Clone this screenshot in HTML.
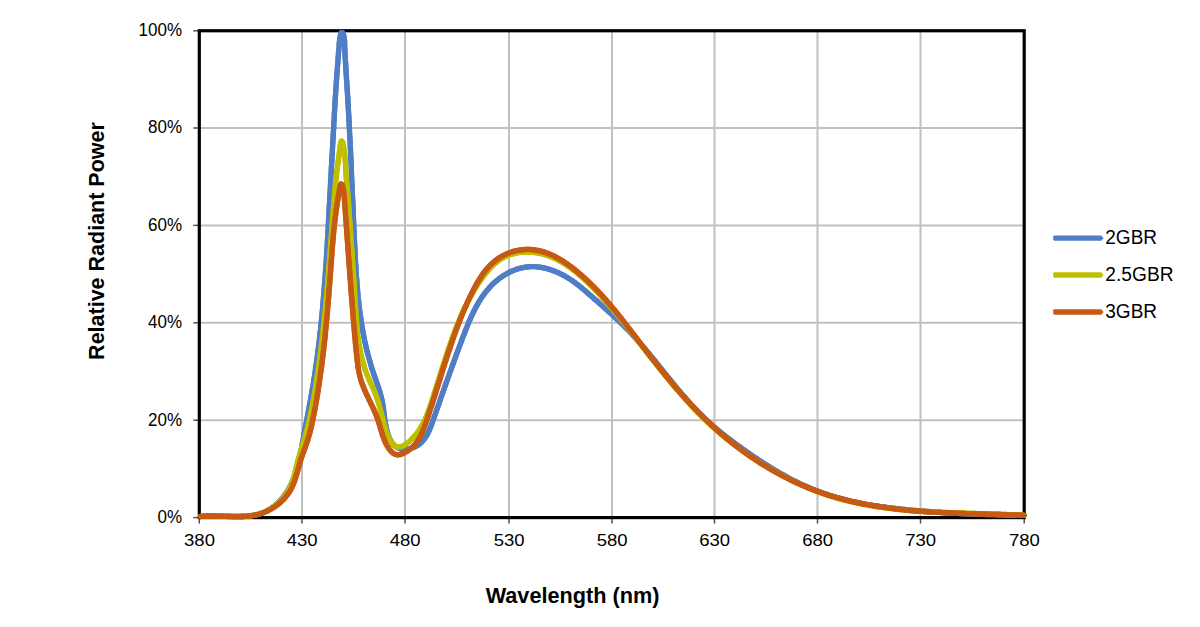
<!DOCTYPE html>
<html><head><meta charset="utf-8"><style>
html,body{margin:0;padding:0;background:#fff;}
svg{display:block;font-family:"Liberation Sans",sans-serif;}
</style></head><body>
<svg width="1200" height="627" viewBox="0 0 1200 627">
<rect width="1200" height="627" fill="#fff"/>
<g stroke="#c0c0c0" stroke-width="2"><line x1="302.0" y1="30.6" x2="302.0" y2="517.6"/><line x1="405.0" y1="30.6" x2="405.0" y2="517.6"/><line x1="509.0" y1="30.6" x2="509.0" y2="517.6"/><line x1="612.0" y1="30.6" x2="612.0" y2="517.6"/><line x1="714.5" y1="30.6" x2="714.5" y2="517.6"/><line x1="817.5" y1="30.6" x2="817.5" y2="517.6"/><line x1="920.5" y1="30.6" x2="920.5" y2="517.6"/><line x1="199.0" y1="420.2" x2="1023.8" y2="420.2"/><line x1="199.0" y1="322.8" x2="1023.8" y2="322.8"/><line x1="199.0" y1="225.4" x2="1023.8" y2="225.4"/><line x1="199.0" y1="128.0" x2="1023.8" y2="128.0"/></g>
<g stroke="#505050" stroke-width="1.5"><line x1="199.3" y1="517.6" x2="199.3" y2="523.6"/><line x1="302.0" y1="517.6" x2="302.0" y2="523.6"/><line x1="405.0" y1="517.6" x2="405.0" y2="523.6"/><line x1="509.0" y1="517.6" x2="509.0" y2="523.6"/><line x1="612.0" y1="517.6" x2="612.0" y2="523.6"/><line x1="714.5" y1="517.6" x2="714.5" y2="523.6"/><line x1="817.5" y1="517.6" x2="817.5" y2="523.6"/><line x1="920.5" y1="517.6" x2="920.5" y2="523.6"/><line x1="1024.2" y1="517.6" x2="1024.2" y2="523.6"/><line x1="193.3" y1="517.6" x2="199.3" y2="517.6"/><line x1="193.3" y1="420.2" x2="199.3" y2="420.2"/><line x1="193.3" y1="322.8" x2="199.3" y2="322.8"/><line x1="193.3" y1="225.4" x2="199.3" y2="225.4"/><line x1="193.3" y1="128.0" x2="199.3" y2="128.0"/><line x1="193.3" y1="30.8" x2="199.3" y2="30.8"/></g>
<rect x="199.30" y="30.75" width="824.90" height="486.85" fill="none" stroke="#000" stroke-width="3.2"/>
<g fill="none" stroke-width="5.3" stroke-linejoin="round" stroke-linecap="round">
<path stroke="#4f7dc6" d="M200.9 516.5 L202.8 516.2 L204.8 516.0 L206.9 515.9 L209.0 515.8 L211.1 515.7 L213.2 515.7 L215.4 515.7 L217.6 515.8 L219.8 515.9 L222.0 516.0 L224.3 516.1 L225.8 516.1 L227.3 516.2 L228.8 516.3 L230.3 516.3 L231.8 516.4 L233.4 516.4 L234.9 516.5 L236.4 516.5 L237.9 516.5 L239.4 516.5 L240.9 516.5 L243.1 516.5 L245.4 516.3 L247.6 516.2 L249.8 516.0 L251.9 515.7 L254.1 515.3 L256.2 514.9 L258.2 514.4 L260.3 513.7 L262.2 513.0 L264.2 512.2 L266.1 511.3 L268.0 510.3 L269.8 509.2 L271.5 508.1 L273.2 506.8 L274.9 505.5 L276.5 504.1 L278.1 502.6 L279.6 501.1 L281.1 499.5 L282.5 497.8 L283.8 496.1 L285.1 494.4 L286.3 492.6 L287.5 490.8 L288.7 488.9 L289.7 487.0 L290.7 485.1 L291.7 483.1 L292.5 481.2 L293.4 479.2 L294.2 477.2 L294.9 475.1 L295.6 473.1 L296.2 471.0 L296.9 468.9 L297.4 466.8 L298.0 464.7 L298.5 462.6 L299.0 460.5 L299.5 458.4 L299.9 456.2 L300.3 454.1 L300.8 451.9 L301.2 449.8 L301.6 447.6 L302.0 445.5 L302.4 443.3 L302.8 441.2 L303.2 439.0 L303.6 436.9 L304.0 434.7 L304.4 432.6 L304.8 430.5 L305.2 428.3 L305.6 426.2 L306.0 424.0 L306.4 421.9 L306.8 419.8 L307.2 417.6 L307.6 415.5 L308.0 413.4 L308.4 411.2 L308.8 409.1 L309.2 407.0 L309.6 404.8 L310.0 402.7 L310.4 400.6 L310.8 398.4 L311.1 396.3 L311.5 394.2 L311.9 392.0 L312.2 389.9 L312.6 387.8 L313.0 385.6 L313.3 383.5 L313.7 381.4 L314.0 379.2 L314.3 377.1 L314.7 375.0 L315.0 372.8 L315.3 370.7 L315.6 368.5 L315.9 366.4 L316.2 364.3 L316.5 362.1 L316.8 360.0 L317.1 357.8 L317.4 355.7 L317.7 353.5 L317.9 351.4 L318.2 349.2 L318.5 347.1 L318.7 344.9 L319.0 342.8 L319.3 340.6 L319.5 338.5 L319.7 336.3 L320.0 334.2 L320.2 332.0 L320.5 329.9 L320.7 327.7 L320.9 325.6 L321.1 323.4 L321.3 321.3 L321.6 319.1 L321.8 316.9 L322.0 314.8 L322.2 312.6 L322.4 310.5 L322.6 308.3 L322.8 306.1 L323.0 304.0 L323.2 301.8 L323.3 299.7 L323.5 297.5 L323.7 295.3 L323.9 293.2 L324.0 291.0 L324.2 288.8 L324.4 286.7 L324.5 284.5 L324.7 282.3 L324.9 280.2 L325.0 278.0 L325.2 275.9 L325.3 273.7 L325.5 271.5 L325.6 269.4 L325.8 267.2 L325.9 265.0 L326.1 262.9 L326.2 260.7 L326.4 258.5 L326.5 256.4 L326.6 254.2 L326.8 252.0 L326.9 249.8 L327.0 247.7 L327.2 245.5 L327.3 243.3 L327.4 241.2 L327.5 239.0 L327.7 236.8 L327.8 234.7 L327.9 232.5 L328.0 230.3 L328.2 228.2 L328.3 226.0 L328.4 223.8 L328.5 221.7 L328.6 219.5 L328.7 217.3 L328.9 215.2 L329.0 213.0 L329.1 210.8 L329.2 208.7 L329.3 206.5 L329.4 204.3 L329.6 202.2 L329.7 200.0 L329.8 197.8 L329.9 195.7 L330.0 193.5 L330.1 191.3 L330.3 189.2 L330.4 187.0 L330.5 184.8 L330.6 182.7 L330.7 180.5 L330.8 178.4 L331.0 176.2 L331.1 174.0 L331.2 171.9 L331.3 169.7 L331.4 167.5 L331.5 165.4 L331.7 163.2 L331.8 161.1 L331.9 158.9 L332.0 156.7 L332.1 154.6 L332.3 152.4 L332.4 150.2 L332.5 148.1 L332.6 145.9 L332.7 143.7 L332.9 141.6 L333.0 139.4 L333.1 137.2 L333.2 135.1 L333.3 132.9 L333.5 130.7 L333.6 128.6 L333.7 126.4 L333.8 124.2 L333.9 122.0 L334.1 119.9 L334.2 117.7 L334.3 115.5 L334.4 113.4 L334.5 111.2 L334.7 109.0 L334.8 106.8 L334.9 104.7 L335.0 102.5 L335.2 100.3 L335.3 98.2 L335.4 96.0 L335.6 93.9 L335.7 91.7 L335.8 89.5 L336.0 87.4 L336.1 85.2 L336.3 83.1 L336.4 80.9 L336.6 78.8 L336.7 76.6 L336.9 74.5 L337.1 72.3 L337.2 70.2 L337.4 68.0 L337.5 65.9 L337.7 63.7 L337.9 61.5 L338.0 59.4 L338.2 57.2 L338.4 55.0 L338.5 52.8 L338.7 50.6 L338.9 48.4 L339.1 46.2 L339.2 44.0 L339.4 41.8 L339.6 40.3 L339.8 38.8 L340.1 37.3 L340.4 35.7 L340.7 34.2 L341.2 32.7 L342.8 32.8 L343.4 34.3 L343.8 35.8 L344.1 37.4 L344.3 38.9 L344.5 40.5 L344.6 42.0 L344.6 43.6 L344.6 45.1 L344.7 46.6 L344.8 48.8 L344.9 51.0 L345.0 53.2 L345.1 55.3 L345.2 57.4 L345.3 59.6 L345.5 61.7 L345.6 63.8 L345.7 66.0 L345.9 68.1 L346.0 70.3 L346.1 72.4 L346.3 74.6 L346.4 76.7 L346.5 78.9 L346.7 81.1 L346.8 83.2 L347.0 85.4 L347.1 87.6 L347.2 89.8 L347.4 91.9 L347.5 94.1 L347.6 96.3 L347.8 98.5 L347.9 100.6 L348.0 102.8 L348.1 105.0 L348.3 107.1 L348.4 109.3 L348.5 111.5 L348.6 113.7 L348.7 115.8 L348.9 118.0 L349.0 120.2 L349.1 122.3 L349.2 124.5 L349.3 126.7 L349.4 128.8 L349.5 131.0 L349.6 133.2 L349.7 135.4 L349.9 137.5 L350.0 139.7 L350.1 141.9 L350.2 144.0 L350.3 146.2 L350.4 148.4 L350.5 150.5 L350.6 152.7 L350.7 154.9 L350.8 157.0 L350.9 159.2 L351.0 161.4 L351.1 163.5 L351.2 165.7 L351.3 167.9 L351.4 170.0 L351.4 172.2 L351.5 174.3 L351.6 176.5 L351.7 178.7 L351.8 180.8 L351.9 183.0 L352.0 185.2 L352.1 187.3 L352.2 189.5 L352.3 191.7 L352.4 193.8 L352.5 196.0 L352.6 198.2 L352.7 200.3 L352.8 202.5 L352.9 204.7 L353.0 206.8 L353.1 209.0 L353.1 211.2 L353.2 213.3 L353.3 215.5 L353.4 217.7 L353.5 219.8 L353.6 222.0 L353.7 224.2 L353.8 226.3 L353.9 228.5 L354.0 230.7 L354.1 232.8 L354.2 235.0 L354.3 237.2 L354.4 239.3 L354.5 241.5 L354.6 243.7 L354.7 245.8 L354.8 248.0 L355.0 250.2 L355.1 252.4 L355.2 254.5 L355.3 256.7 L355.4 258.9 L355.5 261.0 L355.6 263.2 L355.8 265.4 L355.9 267.5 L356.0 269.7 L356.2 271.9 L356.3 274.0 L356.4 276.2 L356.6 278.4 L356.8 280.5 L356.9 282.7 L357.1 284.9 L357.3 287.0 L357.4 289.2 L357.6 291.3 L357.8 293.5 L358.0 295.7 L358.2 297.8 L358.5 300.0 L358.7 302.1 L358.9 304.3 L359.2 306.4 L359.4 308.6 L359.7 310.7 L360.0 312.9 L360.3 315.0 L360.6 317.2 L360.9 319.3 L361.2 321.4 L361.5 323.6 L361.9 325.7 L362.2 327.8 L362.6 330.0 L363.0 332.1 L363.4 334.2 L363.8 336.4 L364.2 338.5 L364.6 340.6 L365.1 342.7 L365.6 344.8 L366.0 346.9 L366.5 349.0 L367.0 351.1 L367.6 353.2 L368.1 355.3 L368.7 357.4 L369.3 359.5 L369.9 361.6 L370.5 363.7 L371.1 365.8 L371.7 367.9 L372.4 369.9 L373.1 372.0 L373.8 374.1 L374.5 376.1 L375.2 378.2 L376.0 380.3 L376.7 382.3 L377.4 384.4 L378.1 386.4 L378.8 388.5 L379.4 390.6 L380.1 392.7 L380.6 394.7 L381.2 396.8 L381.7 398.9 L382.2 401.0 L382.6 403.1 L382.9 405.2 L383.3 407.3 L383.6 409.5 L383.8 411.6 L384.1 413.7 L384.3 415.9 L384.6 418.0 L384.9 420.2 L385.2 422.3 L385.6 424.5 L386.0 426.6 L386.5 428.8 L387.0 431.0 L387.6 433.1 L388.1 434.6 L388.6 436.0 L389.1 437.4 L389.7 438.8 L390.8 440.7 L391.9 442.6 L393.2 444.3 L394.7 445.8 L396.3 447.0 L398.2 448.0 L400.2 448.7 L402.4 449.1 L404.0 449.2 L405.5 449.1 L407.1 449.0 L408.7 448.8 L410.3 448.5 L411.8 448.1 L413.2 447.6 L415.3 446.7 L417.2 445.7 L418.9 444.5 L420.5 443.2 L422.0 441.8 L423.4 440.3 L424.6 438.6 L425.8 436.9 L426.9 435.1 L427.9 433.2 L428.8 431.3 L429.7 429.3 L430.5 427.2 L431.3 425.2 L432.1 423.1 L432.8 421.0 L433.6 418.9 L434.3 416.8 L435.0 414.7 L435.8 412.6 L436.5 410.5 L437.2 408.5 L437.9 406.4 L438.7 404.4 L439.4 402.3 L440.1 400.3 L440.8 398.2 L441.5 396.2 L442.2 394.1 L443.0 392.1 L443.7 390.1 L444.4 388.0 L445.1 386.0 L445.8 384.0 L446.5 382.0 L447.3 379.9 L448.0 377.9 L448.7 375.9 L449.4 373.9 L450.1 371.9 L450.9 369.9 L451.6 367.8 L452.3 365.8 L453.1 363.8 L453.8 361.8 L454.5 359.8 L455.3 357.8 L456.0 355.7 L456.7 353.7 L457.5 351.7 L458.2 349.7 L459.0 347.6 L459.8 345.6 L460.5 343.6 L461.3 341.5 L462.0 339.5 L462.8 337.4 L463.6 335.4 L464.4 333.3 L465.2 331.3 L466.0 329.2 L466.8 327.2 L467.6 325.1 L468.5 323.1 L469.3 321.1 L470.2 319.1 L471.1 317.0 L472.0 315.0 L473.0 313.1 L473.9 311.1 L474.9 309.2 L475.9 307.2 L477.0 305.3 L478.0 303.4 L479.1 301.6 L480.3 299.7 L481.4 297.9 L482.7 296.2 L483.9 294.4 L485.2 292.7 L486.5 291.0 L487.9 289.4 L489.3 287.8 L490.7 286.2 L492.2 284.7 L493.7 283.2 L495.3 281.8 L497.0 280.4 L498.7 279.0 L500.4 277.7 L502.2 276.5 L504.0 275.3 L505.9 274.2 L507.8 273.1 L509.7 272.2 L511.7 271.2 L513.7 270.4 L515.7 269.6 L517.7 268.9 L519.8 268.3 L521.9 267.8 L524.0 267.4 L526.1 267.1 L528.3 266.8 L530.4 266.7 L532.6 266.6 L534.8 266.7 L536.9 266.8 L539.1 267.1 L541.3 267.4 L543.4 267.8 L545.6 268.3 L547.7 268.9 L549.9 269.5 L552.0 270.2 L554.0 271.0 L556.1 271.8 L558.1 272.7 L560.1 273.6 L562.0 274.6 L564.0 275.6 L565.8 276.7 L567.7 277.8 L569.5 278.9 L571.3 280.1 L573.1 281.3 L574.9 282.6 L576.6 283.9 L578.3 285.2 L580.0 286.5 L581.7 287.9 L583.3 289.2 L585.0 290.6 L586.6 292.0 L588.2 293.4 L589.9 294.9 L591.5 296.3 L593.1 297.7 L594.7 299.2 L596.4 300.6 L598.0 302.0 L599.6 303.5 L601.2 304.9 L602.8 306.4 L604.4 307.8 L606.1 309.3 L607.7 310.7 L609.3 312.2 L610.9 313.6 L612.5 315.1 L614.1 316.6 L615.7 318.0 L617.3 319.5 L618.8 321.0 L620.4 322.5 L621.9 324.0 L623.5 325.5 L625.0 327.1 L626.6 328.6 L628.1 330.2 L629.6 331.7 L631.1 333.3 L632.6 334.9 L634.0 336.5 L635.5 338.1 L636.9 339.7 L638.4 341.3 L639.8 342.9 L641.2 344.5 L642.7 346.2 L644.1 347.8 L645.5 349.5 L646.9 351.2 L648.3 352.8 L649.7 354.5 L651.0 356.2 L652.4 357.8 L653.8 359.5 L655.2 361.2 L656.5 362.9 L657.9 364.6 L659.3 366.3 L660.6 368.0 L662.0 369.7 L663.3 371.4 L664.7 373.1 L666.1 374.8 L667.4 376.5 L668.8 378.1 L670.2 379.8 L671.5 381.5 L672.9 383.2 L674.3 384.9 L675.7 386.6 L677.0 388.2 L678.4 389.9 L679.8 391.5 L681.2 393.2 L682.6 394.8 L684.1 396.5 L685.5 398.1 L686.9 399.7 L688.3 401.4 L689.8 403.0 L691.2 404.6 L692.7 406.2 L694.2 407.7 L695.7 409.3 L697.2 410.9 L698.7 412.4 L700.2 413.9 L701.7 415.5 L703.3 417.0 L704.8 418.5 L706.4 419.9 L708.0 421.4 L709.6 422.9 L711.2 424.3 L712.8 425.7 L714.5 427.2 L716.1 428.6 L717.8 430.0 L719.4 431.3 L721.1 432.7 L722.8 434.1 L724.5 435.4 L726.2 436.8 L727.9 438.1 L729.7 439.4 L731.4 440.7 L733.1 442.0 L734.9 443.3 L736.6 444.6 L738.4 445.9 L740.2 447.2 L741.9 448.5 L743.7 449.7 L745.5 451.0 L747.3 452.2 L749.1 453.4 L750.9 454.7 L752.7 455.9 L754.5 457.1 L756.3 458.3 L758.1 459.5 L759.9 460.7 L761.8 461.9 L763.6 463.1 L765.4 464.3 L767.3 465.4 L769.1 466.6 L771.0 467.7 L772.8 468.9 L774.7 470.0 L776.6 471.1 L778.4 472.2 L780.3 473.3 L782.2 474.3 L784.1 475.4 L786.0 476.4 L787.9 477.5 L789.8 478.5 L791.7 479.5 L793.7 480.5 L795.6 481.4 L797.5 482.4 L799.5 483.3 L801.4 484.3 L803.4 485.2 L805.4 486.0 L807.3 486.9 L809.3 487.8 L811.3 488.6 L813.3 489.4 L815.3 490.2 L817.3 491.0 L819.3 491.8 L821.3 492.5 L823.4 493.2 L825.4 493.9 L827.5 494.6 L829.5 495.3 L831.6 495.9 L833.6 496.6 L835.7 497.2 L837.8 497.8 L839.9 498.3 L842.0 498.9 L844.1 499.4 L846.2 500.0 L848.3 500.5 L850.4 501.0 L852.5 501.5 L854.6 501.9 L856.8 502.4 L858.9 502.8 L861.0 503.3 L863.2 503.7 L865.3 504.1 L867.4 504.5 L869.6 504.9 L871.7 505.2 L873.9 505.6 L876.0 505.9 L878.2 506.2 L880.4 506.6 L882.5 506.9 L884.7 507.2 L886.9 507.5 L889.0 507.7 L891.2 508.0 L893.4 508.3 L895.5 508.5 L897.7 508.8 L899.9 509.0 L902.0 509.3 L904.2 509.5 L906.4 509.7 L908.6 509.9 L910.7 510.1 L912.9 510.3 L915.1 510.5 L917.2 510.7 L919.4 510.9 L921.6 511.0 L923.7 511.2 L925.9 511.4 L928.0 511.5 L930.2 511.7 L932.3 511.8 L934.5 512.0 L936.7 512.1 L938.8 512.3 L941.0 512.4 L943.1 512.6 L945.3 512.7 L947.4 512.8 L949.6 512.9 L951.7 513.0 L953.9 513.2 L956.0 513.3 L958.2 513.4 L960.3 513.5 L962.5 513.6 L964.6 513.7 L966.8 513.8 L968.9 513.9 L971.1 514.0 L973.2 514.0 L975.4 514.1 L977.6 514.2 L979.7 514.3 L981.9 514.3 L984.0 514.4 L986.2 514.5 L988.4 514.6 L990.5 514.6 L992.7 514.7 L994.9 514.7 L997.0 514.8 L999.2 514.8 L1001.4 514.9 L1003.5 514.9 L1005.7 515.0 L1007.9 515.0 L1010.1 515.1 L1012.3 515.1 L1014.5 515.2 L1016.7 515.2 L1018.9 515.2 L1021.1 515.3 L1023.3 515.3 L1024.0 515.3"/>
<path stroke="#4f7dc6" d="M200.9 516.5 L202.8 516.2 L204.8 516.0 L206.9 515.9 L209.0 515.8 L211.1 515.7 L213.2 515.7 L215.4 515.7 L217.6 515.8 L219.8 515.9 L222.0 516.0 L224.3 516.1 L225.8 516.1 L227.3 516.2 L228.8 516.3 L230.3 516.3 L231.8 516.4 L233.4 516.4 L234.9 516.5 L236.4 516.5 L237.9 516.5 L239.4 516.5 L240.9 516.5 L243.1 516.5 L245.4 516.3 L247.6 516.2 L249.8 516.0 L251.9 515.7 L254.1 515.3 L256.2 514.9 L258.2 514.4 L260.3 513.7 L262.2 513.0 L264.2 512.2 L266.1 511.3 L268.0 510.3 L269.8 509.2 L271.5 508.1 L273.2 506.8 L274.9 505.5 L276.5 504.1 L278.1 502.6 L279.6 501.1 L281.1 499.5 L282.5 497.8 L283.8 496.1 L285.1 494.4 L286.3 492.6 L287.5 490.8 L288.7 488.9 L289.7 487.0 L290.7 485.1 L291.7 483.1 L292.5 481.2 L293.4 479.2 L294.2 477.2 L294.9 475.1 L295.6 473.1 L296.2 471.0 L296.9 468.9 L297.4 466.8 L298.0 464.7 L298.5 462.6 L299.0 460.5 L299.5 458.4 L299.9 456.2 L300.3 454.1 L300.8 451.9 L301.2 449.8 L301.6 447.6 L302.0 445.5 L302.4 443.3 L302.8 441.2 L303.2 439.0 L303.6 436.9 L304.0 434.7 L304.4 432.6 L304.8 430.5 L305.2 428.3 L305.6 426.2 L306.0 424.0 L306.4 421.9 L306.8 419.8 L307.2 417.6 L307.6 415.5 L308.0 413.4 L308.4 411.2 L308.8 409.1 L309.2 407.0 L309.6 404.8 L310.0 402.7 L310.4 400.6 L310.8 398.4 L311.1 396.3 L311.5 394.2 L311.9 392.0 L312.2 389.9 L312.6 387.8 L313.0 385.6 L313.3 383.5 L313.7 381.4 L314.0 379.2 L314.3 377.1 L314.7 375.0 L315.0 372.8 L315.3 370.7 L315.6 368.5 L315.9 366.4 L316.2 364.3 L316.5 362.1 L316.8 360.0 L317.1 357.8 L317.4 355.7 L317.7 353.5 L317.9 351.4 L318.2 349.2 L318.5 347.1 L318.7 344.9 L319.0 342.8 L319.3 340.6 L319.5 338.5 L319.7 336.3 L320.0 334.2 L320.2 332.0 L320.5 329.9 L320.7 327.7 L320.9 325.6 L321.1 323.4 L321.3 321.3 L321.6 319.1 L321.8 316.9 L322.0 314.8 L322.2 312.6 L322.4 310.5 L322.6 308.3 L322.8 306.1 L323.0 304.0 L323.2 301.8 L323.3 299.7 L323.5 297.5 L323.7 295.3 L323.9 293.2 L324.0 291.0 L324.2 288.8 L324.4 286.7 L324.5 284.5 L324.7 282.3 L324.9 280.2 L325.0 278.0 L325.2 275.9 L325.3 273.7 L325.5 271.5 L325.6 269.4 L325.8 267.2 L325.9 265.0 L326.1 262.9 L326.2 260.7 L326.4 258.5 L326.5 256.4 L326.6 254.2 L326.8 252.0 L326.9 249.8 L327.0 247.7 L327.2 245.5 L327.3 243.3 L327.4 241.2 L327.5 239.0 L327.7 236.8 L327.8 234.7 L327.9 232.5 L328.0 230.3 L328.2 228.2 L328.3 226.0 L328.4 223.8 L328.5 221.7 L328.6 219.5 L328.7 217.3 L328.9 215.2 L329.0 213.0 L329.1 210.8 L329.2 208.7 L329.3 206.5 L329.4 204.3 L329.6 202.2 L329.7 200.0 L329.8 197.8 L329.9 195.7 L330.0 193.5 L330.1 191.3 L330.3 189.2 L330.4 187.0 L330.5 184.8 L330.6 182.7 L330.7 180.5 L330.8 178.4 L331.0 176.2 L331.1 174.0 L331.2 171.9 L331.3 169.7 L331.4 167.5 L331.5 165.4 L331.7 163.2 L331.8 161.1 L331.9 158.9 L332.0 156.7 L332.1 154.6 L332.3 152.4 L332.4 150.2 L332.5 148.1 L332.6 145.9 L332.7 143.7 L332.9 141.6 L333.0 139.4 L333.1 137.2 L333.2 135.1 L333.3 132.9 L333.5 130.7 L333.6 128.6 L333.7 126.4 L333.8 124.2 L333.9 122.0 L334.1 119.9 L334.2 117.7 L334.3 115.5 L334.4 113.4 L334.5 111.2 L334.7 109.0 L334.8 106.8 L334.9 104.7 L335.0 102.5 L335.2 100.3 L335.3 98.2 L335.4 96.0 L335.6 93.9 L335.7 91.7 L335.8 89.5 L336.0 87.4 L336.1 85.2 L336.3 83.1 L336.4 80.9 L336.6 78.8 L336.7 76.6 L336.9 74.5 L337.1 72.3 L337.2 70.2 L337.4 68.0 L337.5 65.9 L337.7 63.7 L337.9 61.5 L338.0 59.4 L338.2 57.2 L338.4 55.0 L338.5 52.8 L338.7 50.6 L338.9 48.4 L339.1 46.2 L339.2 44.0 L339.4 41.8 L339.6 40.3 L339.8 38.8 L340.1 37.3 L340.4 35.7 L340.7 34.2 L341.2 32.7 L342.8 32.8 L343.4 34.3 L343.8 35.8 L344.1 37.4 L344.3 38.9 L344.5 40.5 L344.6 42.0 L344.6 43.6 L344.6 45.1 L344.7 46.6 L344.8 48.8 L344.9 51.0 L345.0 53.2 L345.1 55.3 L345.2 57.4 L345.3 59.6 L345.5 61.7 L345.6 63.8 L345.7 66.0 L345.9 68.1 L346.0 70.3 L346.1 72.4 L346.3 74.6 L346.4 76.7 L346.5 78.9 L346.7 81.1 L346.8 83.2 L347.0 85.4 L347.1 87.6 L347.2 89.8 L347.4 91.9 L347.5 94.1 L347.6 96.3 L347.8 98.5 L347.9 100.6 L348.0 102.8 L348.1 105.0 L348.3 107.1 L348.4 109.3 L348.5 111.5 L348.6 113.7 L348.7 115.8 L348.9 118.0 L349.0 120.2 L349.1 122.3 L349.2 124.5 L349.3 126.7 L349.4 128.8 L349.5 131.0 L349.6 133.2 L349.7 135.4 L349.9 137.5 L350.0 139.7 L350.1 141.9 L350.2 144.0 L350.3 146.2 L350.4 148.4 L350.5 150.5 L350.6 152.7 L350.7 154.9 L350.8 157.0 L350.9 159.2 L351.0 161.4 L351.1 163.5 L351.2 165.7 L351.3 167.9 L351.4 170.0 L351.4 172.2 L351.5 174.3 L351.6 176.5 L351.7 178.7 L351.8 180.8 L351.9 183.0 L352.0 185.2 L352.1 187.3 L352.2 189.5 L352.3 191.7 L352.4 193.8 L352.5 196.0 L352.6 198.2 L352.7 200.3 L352.8 202.5 L352.9 204.7 L353.0 206.8 L353.1 209.0 L353.1 211.2 L353.2 213.3 L353.3 215.5 L353.4 217.7 L353.5 219.8 L353.6 222.0 L353.7 224.2 L353.8 226.3 L353.9 228.5 L354.0 230.7 L354.1 232.8 L354.2 235.0 L354.3 237.2 L354.4 239.3 L354.5 241.5 L354.6 243.7 L354.7 245.8 L354.8 248.0 L355.0 250.2 L355.1 252.4 L355.2 254.5 L355.3 256.7 L355.4 258.9 L355.5 261.0 L355.6 263.2 L355.8 265.4 L355.9 267.5 L356.0 269.7 L356.2 271.9 L356.3 274.0 L356.4 276.2 L356.6 278.4 L356.8 280.5 L356.9 282.7 L357.1 284.9 L357.3 287.0 L357.4 289.2 L357.6 291.3 L357.8 293.5 L358.0 295.7 L358.2 297.8 L358.5 300.0 L358.7 302.1 L358.9 304.3 L359.2 306.4 L359.4 308.6 L359.7 310.7 L360.0 312.9 L360.3 315.0 L360.6 317.2 L360.9 319.3 L361.2 321.4 L361.5 323.6 L361.9 325.7 L362.2 327.8 L362.6 330.0 L363.0 332.1 L363.4 334.2 L363.8 336.4 L364.2 338.5 L364.6 340.6 L365.1 342.7 L365.6 344.8 L366.0 346.9 L366.5 349.0 L367.0 351.1 L367.6 353.2 L368.1 355.3 L368.7 357.4 L369.3 359.5 L369.9 361.6 L370.5 363.7 L371.1 365.8 L371.7 367.9 L372.4 369.9 L373.1 372.0 L373.8 374.1 L374.5 376.1 L375.2 378.2 L376.0 380.3 L376.7 382.3 L377.4 384.4 L378.1 386.4 L378.8 388.5 L379.4 390.6 L380.1 392.7 L380.6 394.7 L381.2 396.8 L381.7 398.9 L382.2 401.0 L382.6 403.1 L382.9 405.2 L383.3 407.3 L383.6 409.5 L383.8 411.6 L384.1 413.7 L384.3 415.9 L384.6 418.0 L384.9 420.2 L385.2 422.3 L385.6 424.5 L386.0 426.6 L386.5 428.8 L387.0 431.0 L387.6 433.1 L388.1 434.6 L388.6 436.0 L389.1 437.4 L389.7 438.8 L390.8 440.7 L391.9 442.6 L393.2 444.3 L394.7 445.8 L396.3 447.0 L398.2 448.0 L400.2 448.7 L402.4 449.1 L404.0 449.2 L405.5 449.1 L407.1 449.0 L408.7 448.8 L410.3 448.5 L411.8 448.1 L413.2 447.6 L415.3 446.7 L417.2 445.7 L418.9 444.5 L420.5 443.2 L422.0 441.8 L423.4 440.3 L424.6 438.6 L425.8 436.9 L426.9 435.1 L427.9 433.2 L428.8 431.3 L429.7 429.3 L430.5 427.2 L431.3 425.2 L432.1 423.1 L432.8 421.0 L433.6 418.9 L434.3 416.8 L435.0 414.7 L435.8 412.6 L436.5 410.5 L437.2 408.5 L437.9 406.4 L438.7 404.4 L439.4 402.3 L440.1 400.3 L440.8 398.2 L441.5 396.2 L442.2 394.1 L443.0 392.1 L443.7 390.1 L444.4 388.0 L445.1 386.0 L445.8 384.0 L446.5 382.0 L447.3 379.9 L448.0 377.9 L448.7 375.9 L449.4 373.9 L450.1 371.9 L450.9 369.9 L451.6 367.8 L452.3 365.8 L453.1 363.8 L453.8 361.8 L454.5 359.8 L455.3 357.8 L456.0 355.7 L456.7 353.7 L457.5 351.7 L458.2 349.7 L459.0 347.6 L459.8 345.6 L460.5 343.6 L461.3 341.5 L462.0 339.5 L462.8 337.4 L463.6 335.4 L464.4 333.3 L465.2 331.3 L466.0 329.2 L466.8 327.2 L467.6 325.1 L468.5 323.1 L469.3 321.1 L470.2 319.1 L471.1 317.0 L472.0 315.0 L473.0 313.1 L473.9 311.1 L474.9 309.2 L475.9 307.2 L477.0 305.3 L478.0 303.4 L479.1 301.6 L480.3 299.7 L481.4 297.9 L482.7 296.2 L483.9 294.4 L485.2 292.7 L486.5 291.0 L487.9 289.4 L489.3 287.8 L490.7 286.2 L492.2 284.7 L493.7 283.2 L495.3 281.8 L497.0 280.4 L498.7 279.0 L500.4 277.7 L502.2 276.5 L504.0 275.3 L505.9 274.2 L507.8 273.1 L509.7 272.2 L511.7 271.2 L513.7 270.4 L515.7 269.6 L517.7 268.9 L519.8 268.3 L521.9 267.8 L524.0 267.4 L526.1 267.1 L528.3 266.8 L530.4 266.7 L532.6 266.6 L534.8 266.7 L536.9 266.8 L539.1 267.1 L541.3 267.4 L543.4 267.8 L545.6 268.3 L547.7 268.9 L549.9 269.5 L552.0 270.2 L554.0 271.0 L556.1 271.8 L558.1 272.7 L560.1 273.6 L562.0 274.6 L564.0 275.6 L565.8 276.7 L567.7 277.8 L569.5 278.9 L571.3 280.1 L573.1 281.3 L574.9 282.6 L576.6 283.9 L578.3 285.2 L580.0 286.5 L581.7 287.9 L583.3 289.2 L585.0 290.6 L586.6 292.0 L588.2 293.4 L589.9 294.9 L591.5 296.3 L593.1 297.7 L594.7 299.2 L596.4 300.6 L598.0 302.0 L599.6 303.5 L601.2 304.9 L602.8 306.4 L604.4 307.8 L606.1 309.3 L607.7 310.7 L609.3 312.2 L610.9 313.6 L612.5 315.1 L614.1 316.6 L615.7 318.0 L617.3 319.5 L618.8 321.0 L620.4 322.5 L621.9 324.0 L623.5 325.5 L625.0 327.1 L626.6 328.6 L628.1 330.2 L629.6 331.7 L631.1 333.3 L632.6 334.9 L634.0 336.5 L635.5 338.1 L636.9 339.7 L638.4 341.3 L639.8 342.9 L641.2 344.5 L642.7 346.2 L644.1 347.8 L645.5 349.5 L646.9 351.2 L648.3 352.8 L649.7 354.5 L651.0 356.2 L652.4 357.8 L653.8 359.5 L655.2 361.2 L656.5 362.9 L657.9 364.6 L659.3 366.3 L660.6 368.0 L662.0 369.7 L663.3 371.4 L664.7 373.1 L666.1 374.8 L667.4 376.5 L668.8 378.1 L670.2 379.8 L671.5 381.5 L672.9 383.2 L674.3 384.9 L675.7 386.6 L677.0 388.2 L678.4 389.9 L679.8 391.5 L681.2 393.2 L682.6 394.8 L684.1 396.5 L685.5 398.1 L686.9 399.7 L688.3 401.4 L689.8 403.0 L691.2 404.6 L692.7 406.2 L694.2 407.7 L695.7 409.3 L697.2 410.9 L698.7 412.4 L700.2 413.9 L701.7 415.5 L703.3 417.0 L704.8 418.5 L706.4 419.9 L708.0 421.4 L709.6 422.9 L711.2 424.3 L712.8 425.7 L714.5 427.2 L716.1 428.6 L717.8 430.0 L719.4 431.3 L721.1 432.7 L722.8 434.1 L724.5 435.4 L726.2 436.8 L727.9 438.1 L729.7 439.4 L731.4 440.7 L733.1 442.0 L734.9 443.3 L736.6 444.6 L738.4 445.9 L740.2 447.2 L741.9 448.5 L743.7 449.7 L745.5 451.0 L747.3 452.2 L749.1 453.4 L750.9 454.7 L752.7 455.9 L754.5 457.1 L756.3 458.3 L758.1 459.5 L759.9 460.7 L761.8 461.9 L763.6 463.1 L765.4 464.3 L767.3 465.4 L769.1 466.6 L771.0 467.7 L772.8 468.9 L774.7 470.0 L776.6 471.1 L778.4 472.2 L780.3 473.3 L782.2 474.3 L784.1 475.4 L786.0 476.4 L787.9 477.5 L789.8 478.5 L791.7 479.5 L793.7 480.5 L795.6 481.4 L797.5 482.4 L799.5 483.3 L801.4 484.3 L803.4 485.2 L805.4 486.0 L807.3 486.9 L809.3 487.8 L811.3 488.6 L813.3 489.4 L815.3 490.2 L817.3 491.0 L819.3 491.8 L821.3 492.5 L823.4 493.2 L825.4 493.9 L827.5 494.6 L829.5 495.3 L831.6 495.9 L833.6 496.6 L835.7 497.2 L837.8 497.8 L839.9 498.3 L842.0 498.9 L844.1 499.4 L846.2 500.0 L848.3 500.5 L850.4 501.0 L852.5 501.5 L854.6 501.9 L856.8 502.4 L858.9 502.8 L861.0 503.3 L863.2 503.7 L865.3 504.1 L867.4 504.5 L869.6 504.9 L871.7 505.2 L873.9 505.6 L876.0 505.9 L878.2 506.2 L880.4 506.6 L882.5 506.9 L884.7 507.2 L886.9 507.5 L889.0 507.7 L891.2 508.0 L893.4 508.3 L895.5 508.5 L897.7 508.8 L899.9 509.0 L902.0 509.3 L904.2 509.5 L906.4 509.7 L908.6 509.9 L910.7 510.1 L912.9 510.3 L915.1 510.5 L917.2 510.7 L919.4 510.9 L921.6 511.0 L923.7 511.2 L925.9 511.4 L928.0 511.5 L930.2 511.7 L932.3 511.8 L934.5 512.0 L936.7 512.1 L938.8 512.3 L941.0 512.4 L943.1 512.6 L945.3 512.7 L947.4 512.8 L949.6 512.9 L951.7 513.0 L953.9 513.2 L956.0 513.3 L958.2 513.4 L960.3 513.5 L962.5 513.6 L964.6 513.7 L966.8 513.8 L968.9 513.9 L971.1 514.0 L973.2 514.0 L975.4 514.1 L977.6 514.2 L979.7 514.3 L981.9 514.3 L984.0 514.4 L986.2 514.5 L988.4 514.6 L990.5 514.6 L992.7 514.7 L994.9 514.7 L997.0 514.8 L999.2 514.8 L1001.4 514.9 L1003.5 514.9 L1005.7 515.0 L1007.9 515.0 L1010.1 515.1 L1012.3 515.1 L1014.5 515.2 L1016.7 515.2 L1018.9 515.2 L1021.1 515.3 L1023.3 515.3 L1024.0 515.3"/>
<path stroke="#bfbf00" d="M200.8 516.4 L202.7 516.2 L204.5 516.1 L206.4 516.0 L208.3 515.9 L210.2 515.8 L212.1 515.8 L214.0 515.8 L216.0 515.9 L217.9 515.9 L219.9 516.0 L221.9 516.1 L223.8 516.1 L225.8 516.2 L227.8 516.3 L229.8 516.4 L231.8 516.4 L233.8 516.5 L235.7 516.5 L237.7 516.5 L239.7 516.5 L241.6 516.4 L243.6 516.4 L245.5 516.2 L247.5 516.1 L249.4 515.9 L251.3 515.6 L253.2 515.3 L255.1 514.9 L256.9 514.5 L258.8 514.0 L260.6 513.4 L262.4 512.8 L264.1 512.1 L265.9 511.3 L267.6 510.4 L269.3 509.5 L270.9 508.5 L272.5 507.4 L274.1 506.3 L275.6 505.1 L277.1 503.9 L278.5 502.6 L279.9 501.3 L281.3 499.9 L282.6 498.4 L283.8 496.9 L285.0 495.4 L286.1 493.8 L287.2 492.2 L288.2 490.5 L289.2 488.9 L290.0 487.1 L290.9 485.4 L291.6 483.6 L292.3 481.8 L292.9 479.9 L293.5 478.1 L294.0 476.2 L294.5 474.3 L295.0 472.4 L295.5 470.5 L296.0 468.6 L296.4 466.7 L296.9 464.8 L297.3 462.9 L297.8 461.1 L298.3 459.2 L298.8 457.3 L299.4 455.5 L299.9 453.7 L300.5 451.8 L301.1 450.0 L301.7 448.2 L302.2 446.4 L302.8 444.5 L303.4 442.7 L303.9 440.9 L304.5 439.0 L305.0 437.2 L305.5 435.3 L306.0 433.5 L306.5 431.6 L307.0 429.7 L307.5 427.9 L307.9 426.0 L308.4 424.1 L308.8 422.2 L309.3 420.3 L309.7 418.4 L310.1 416.5 L310.5 414.6 L310.9 412.7 L311.3 410.8 L311.7 408.9 L312.1 407.0 L312.5 405.1 L312.8 403.2 L313.2 401.3 L313.5 399.4 L313.9 397.4 L314.2 395.5 L314.5 393.6 L314.9 391.7 L315.2 389.8 L315.5 387.8 L315.8 385.9 L316.1 384.0 L316.4 382.1 L316.7 380.1 L317.0 378.2 L317.3 376.3 L317.6 374.4 L317.9 372.5 L318.2 370.5 L318.4 368.6 L318.7 366.7 L319.0 364.8 L319.2 362.9 L319.5 361.0 L319.7 359.0 L320.0 357.1 L320.2 355.2 L320.5 353.3 L320.7 351.4 L321.0 349.5 L321.2 347.5 L321.4 345.6 L321.7 343.7 L321.9 341.8 L322.1 339.9 L322.3 338.0 L322.6 336.1 L322.8 334.1 L323.0 332.2 L323.2 330.3 L323.4 328.4 L323.6 326.5 L323.8 324.6 L324.0 322.7 L324.2 320.7 L324.4 318.8 L324.6 316.9 L324.8 315.0 L325.0 313.1 L325.2 311.2 L325.4 309.2 L325.5 307.3 L325.7 305.4 L325.9 303.5 L326.1 301.6 L326.2 299.7 L326.4 297.7 L326.6 295.8 L326.8 293.9 L326.9 292.0 L327.1 290.1 L327.3 288.2 L327.4 286.2 L327.6 284.3 L327.7 282.4 L327.9 280.5 L328.1 278.6 L328.2 276.6 L328.4 274.7 L328.5 272.8 L328.7 270.9 L328.8 268.9 L329.0 267.0 L329.1 265.1 L329.3 263.2 L329.4 261.2 L329.6 259.3 L329.7 257.4 L329.9 255.5 L330.0 253.5 L330.2 251.6 L330.3 249.7 L330.5 247.7 L330.6 245.8 L330.8 243.9 L330.9 241.9 L331.0 240.0 L331.2 238.1 L331.3 236.1 L331.5 234.2 L331.6 232.3 L331.8 230.3 L331.9 228.4 L332.1 226.4 L332.2 224.5 L332.3 222.6 L332.5 220.6 L332.6 218.7 L332.8 216.7 L332.9 214.8 L333.1 212.8 L333.2 210.9 L333.4 208.9 L333.5 207.0 L333.7 205.0 L333.8 203.1 L334.0 201.1 L334.2 199.2 L334.3 197.3 L334.5 195.4 L334.6 193.4 L334.8 191.5 L335.0 189.6 L335.2 187.7 L335.3 185.8 L335.5 183.9 L335.7 182.1 L335.9 180.2 L336.1 178.4 L336.3 176.5 L336.5 174.7 L336.7 172.9 L336.9 171.1 L337.1 169.3 L337.4 167.5 L337.6 165.7 L337.9 163.8 L338.1 161.8 L338.4 159.8 L338.7 157.6 L338.9 156.2 L339.1 154.6 L339.3 153.0 L339.5 151.3 L339.7 149.6 L339.9 147.9 L340.2 146.3 L340.4 144.8 L340.8 142.8 L341.4 141.1 L342.7 142.2 L343.1 143.9 L343.5 146.1 L343.8 147.7 L344.0 149.4 L344.3 151.1 L344.5 152.8 L344.7 154.4 L344.8 156.0 L345.1 158.2 L345.2 160.2 L345.4 162.2 L345.5 164.1 L345.6 165.9 L345.7 167.7 L345.7 169.5 L345.8 171.2 L345.9 173.0 L346.1 174.9 L346.2 176.7 L346.4 178.6 L346.5 180.5 L346.7 182.4 L346.9 184.3 L347.0 186.2 L347.2 188.2 L347.4 190.2 L347.6 192.1 L347.8 194.1 L347.9 196.0 L348.1 198.0 L348.3 200.0 L348.4 201.9 L348.6 203.9 L348.7 205.8 L348.8 207.7 L349.0 209.7 L349.1 211.6 L349.2 213.5 L349.3 215.5 L349.5 217.4 L349.6 219.3 L349.7 221.2 L349.9 223.2 L350.0 225.1 L350.1 227.0 L350.3 228.9 L350.4 230.9 L350.5 232.8 L350.7 234.7 L350.8 236.6 L350.9 238.6 L351.1 240.5 L351.2 242.4 L351.3 244.3 L351.5 246.3 L351.6 248.2 L351.8 250.1 L351.9 252.0 L352.0 254.0 L352.2 255.9 L352.3 257.8 L352.4 259.7 L352.6 261.7 L352.7 263.6 L352.8 265.5 L353.0 267.4 L353.1 269.4 L353.2 271.3 L353.4 273.2 L353.5 275.2 L353.6 277.1 L353.8 279.0 L353.9 280.9 L354.0 282.9 L354.1 284.8 L354.3 286.7 L354.4 288.7 L354.5 290.6 L354.6 292.5 L354.7 294.5 L354.9 296.4 L355.0 298.3 L355.1 300.3 L355.2 302.2 L355.3 304.1 L355.4 306.1 L355.6 308.0 L355.7 310.0 L355.8 311.9 L355.9 313.8 L356.0 315.8 L356.2 317.7 L356.3 319.6 L356.5 321.6 L356.6 323.5 L356.8 325.4 L356.9 327.4 L357.1 329.3 L357.3 331.2 L357.5 333.1 L357.7 335.1 L358.0 337.0 L358.2 338.9 L358.5 340.8 L358.8 342.7 L359.1 344.6 L359.4 346.5 L359.7 348.4 L360.1 350.3 L360.5 352.1 L360.8 354.0 L361.3 355.9 L361.7 357.7 L362.2 359.6 L362.7 361.5 L363.2 363.3 L363.7 365.1 L364.3 367.0 L364.9 368.8 L365.5 370.6 L366.2 372.4 L366.9 374.2 L367.6 376.0 L368.4 377.8 L369.1 379.6 L369.9 381.4 L370.7 383.2 L371.5 384.9 L372.4 386.7 L373.2 388.5 L373.9 390.2 L374.7 392.0 L375.4 393.8 L376.1 395.6 L376.7 397.4 L377.3 399.2 L377.9 401.0 L378.5 402.8 L379.0 404.6 L379.5 406.4 L380.0 408.3 L380.5 410.1 L381.0 412.0 L381.5 413.9 L381.9 415.8 L382.4 417.6 L382.9 419.6 L383.3 421.5 L383.8 423.4 L384.4 425.3 L384.9 427.3 L385.5 429.2 L386.1 431.1 L386.8 433.0 L387.5 434.8 L388.3 436.6 L389.2 438.4 L390.2 440.1 L391.2 441.7 L392.4 443.3 L393.6 444.6 L394.9 445.8 L396.3 446.6 L397.9 447.0 L399.4 447.0 L401.1 446.6 L402.8 446.0 L404.4 445.1 L406.1 444.0 L407.7 442.8 L409.3 441.5 L410.8 440.1 L412.3 438.6 L413.7 437.1 L415.0 435.6 L416.3 434.0 L417.5 432.5 L418.6 430.9 L419.7 429.2 L420.7 427.6 L421.7 425.9 L422.6 424.2 L423.5 422.5 L424.4 420.8 L425.2 419.1 L425.9 417.4 L426.7 415.6 L427.4 413.8 L428.1 412.1 L428.7 410.3 L429.4 408.5 L430.0 406.7 L430.6 404.8 L431.2 403.0 L431.8 401.2 L432.4 399.4 L433.0 397.6 L433.6 395.7 L434.1 393.9 L434.7 392.0 L435.3 390.2 L435.9 388.4 L436.5 386.5 L437.1 384.7 L437.6 382.8 L438.2 381.0 L438.8 379.1 L439.4 377.3 L440.0 375.4 L440.6 373.6 L441.1 371.7 L441.7 369.9 L442.3 368.0 L442.9 366.2 L443.5 364.3 L444.1 362.5 L444.7 360.6 L445.3 358.8 L445.9 356.9 L446.5 355.1 L447.1 353.2 L447.7 351.4 L448.3 349.6 L448.9 347.7 L449.6 345.9 L450.2 344.1 L450.8 342.3 L451.5 340.4 L452.1 338.6 L452.8 336.8 L453.4 335.0 L454.1 333.2 L454.8 331.4 L455.4 329.6 L456.1 327.8 L456.8 326.0 L457.6 324.2 L458.3 322.4 L459.0 320.6 L459.8 318.9 L460.5 317.1 L461.3 315.3 L462.1 313.6 L462.9 311.8 L463.7 310.1 L464.5 308.3 L465.3 306.6 L466.2 304.9 L467.0 303.1 L467.9 301.4 L468.8 299.7 L469.7 298.0 L470.7 296.3 L471.6 294.6 L472.6 292.9 L473.5 291.2 L474.5 289.6 L475.6 287.9 L476.6 286.3 L477.6 284.6 L478.7 283.0 L479.8 281.4 L480.9 279.8 L482.0 278.2 L483.2 276.7 L484.3 275.1 L485.5 273.6 L486.8 272.1 L488.0 270.6 L489.3 269.2 L490.6 267.8 L491.9 266.4 L493.3 265.1 L494.7 263.8 L496.1 262.6 L497.6 261.4 L499.1 260.3 L500.7 259.3 L502.3 258.3 L504.0 257.4 L505.7 256.5 L507.4 255.7 L509.2 255.0 L511.1 254.4 L512.9 253.9 L514.9 253.4 L516.8 253.0 L518.8 252.7 L520.8 252.4 L522.8 252.2 L524.8 252.1 L526.8 252.1 L528.8 252.1 L530.8 252.2 L532.7 252.3 L534.6 252.5 L536.5 252.8 L538.4 253.1 L540.3 253.5 L542.2 253.9 L544.0 254.4 L545.8 254.9 L547.6 255.5 L549.4 256.2 L551.1 256.8 L552.9 257.6 L554.6 258.4 L556.3 259.2 L558.0 260.0 L559.7 260.9 L561.3 261.9 L563.0 262.8 L564.6 263.9 L566.2 264.9 L567.8 266.0 L569.4 267.1 L570.9 268.2 L572.5 269.4 L574.0 270.6 L575.5 271.8 L577.0 273.0 L578.5 274.2 L580.0 275.5 L581.5 276.8 L583.0 278.1 L584.4 279.4 L585.8 280.8 L587.2 282.1 L588.7 283.5 L590.1 284.9 L591.4 286.2 L592.8 287.6 L594.2 289.0 L595.5 290.4 L596.9 291.8 L598.2 293.2 L599.6 294.6 L600.9 296.0 L602.2 297.4 L603.5 298.9 L604.8 300.3 L606.1 301.8 L607.3 303.2 L608.6 304.6 L609.9 306.1 L611.1 307.6 L612.4 309.0 L613.6 310.5 L614.9 312.0 L616.1 313.4 L617.3 314.9 L618.6 316.4 L619.8 317.9 L621.0 319.4 L622.2 320.9 L623.4 322.4 L624.6 323.9 L625.8 325.4 L627.0 326.9 L628.2 328.4 L629.4 329.9 L630.6 331.4 L631.7 332.9 L632.9 334.4 L634.1 335.9 L635.3 337.5 L636.5 339.0 L637.7 340.5 L638.8 342.0 L640.0 343.5 L641.2 345.1 L642.4 346.6 L643.6 348.1 L644.8 349.6 L645.9 351.2 L647.1 352.7 L648.3 354.2 L649.5 355.7 L650.7 357.3 L651.9 358.8 L653.1 360.3 L654.3 361.8 L655.5 363.3 L656.7 364.9 L657.9 366.4 L659.1 367.9 L660.3 369.4 L661.5 370.9 L662.7 372.4 L663.9 373.9 L665.1 375.4 L666.4 376.9 L667.6 378.4 L668.8 379.9 L670.0 381.4 L671.3 382.9 L672.5 384.4 L673.8 385.9 L675.0 387.4 L676.3 388.8 L677.5 390.3 L678.8 391.8 L680.1 393.2 L681.3 394.7 L682.6 396.1 L683.9 397.6 L685.2 399.0 L686.5 400.5 L687.8 401.9 L689.1 403.3 L690.4 404.7 L691.7 406.2 L693.0 407.6 L694.3 409.0 L695.7 410.4 L697.0 411.7 L698.4 413.1 L699.7 414.5 L701.1 415.9 L702.5 417.2 L703.8 418.6 L705.2 419.9 L706.6 421.3 L708.0 422.6 L709.4 423.9 L710.8 425.2 L712.2 426.5 L713.7 427.8 L715.1 429.1 L716.6 430.4 L718.0 431.6 L719.5 432.9 L720.9 434.2 L722.4 435.4 L723.9 436.6 L725.4 437.9 L726.9 439.1 L728.4 440.3 L729.9 441.5 L731.5 442.7 L733.0 443.8 L734.5 445.0 L736.1 446.2 L737.6 447.3 L739.2 448.5 L740.8 449.6 L742.3 450.7 L743.9 451.9 L745.5 453.0 L747.1 454.1 L748.7 455.2 L750.3 456.3 L751.9 457.3 L753.5 458.4 L755.1 459.5 L756.8 460.5 L758.4 461.6 L760.0 462.6 L761.7 463.6 L763.3 464.7 L765.0 465.7 L766.7 466.7 L768.3 467.7 L770.0 468.6 L771.7 469.6 L773.4 470.6 L775.0 471.6 L776.7 472.5 L778.4 473.5 L780.1 474.4 L781.8 475.3 L783.6 476.2 L785.3 477.1 L787.0 478.0 L788.7 478.9 L790.4 479.8 L792.2 480.7 L793.9 481.5 L795.7 482.4 L797.4 483.2 L799.2 484.0 L800.9 484.8 L802.7 485.6 L804.4 486.4 L806.2 487.2 L808.0 487.9 L809.8 488.7 L811.6 489.4 L813.3 490.1 L815.1 490.8 L816.9 491.5 L818.7 492.2 L820.6 492.8 L822.4 493.5 L824.2 494.1 L826.0 494.7 L827.8 495.3 L829.7 495.9 L831.5 496.5 L833.3 497.0 L835.2 497.6 L837.0 498.1 L838.9 498.6 L840.7 499.1 L842.6 499.6 L844.4 500.1 L846.3 500.6 L848.2 501.0 L850.0 501.5 L851.9 501.9 L853.8 502.3 L855.6 502.7 L857.5 503.1 L859.4 503.5 L861.3 503.9 L863.2 504.3 L865.1 504.6 L867.0 505.0 L868.9 505.3 L870.8 505.6 L872.7 505.9 L874.6 506.3 L876.5 506.6 L878.4 506.8 L880.3 507.1 L882.2 507.4 L884.2 507.7 L886.1 507.9 L888.0 508.2 L889.9 508.4 L891.9 508.6 L893.8 508.8 L895.7 509.1 L897.6 509.3 L899.6 509.5 L901.5 509.7 L903.4 509.8 L905.4 510.0 L907.3 510.2 L909.3 510.4 L911.2 510.5 L913.1 510.7 L915.1 510.8 L917.0 511.0 L919.0 511.1 L920.9 511.2 L922.9 511.4 L924.8 511.5 L926.8 511.6 L928.7 511.7 L930.7 511.8 L932.6 511.9 L934.6 512.0 L936.5 512.1 L938.4 512.2 L940.4 512.3 L942.3 512.4 L944.3 512.5 L946.2 512.5 L948.2 512.6 L950.1 512.7 L952.1 512.8 L954.0 512.8 L956.0 512.9 L957.9 513.0 L959.9 513.0 L961.8 513.1 L963.8 513.2 L965.7 513.2 L967.7 513.3 L969.6 513.3 L971.5 513.4 L973.5 513.4 L975.4 513.5 L977.4 513.6 L979.3 513.6 L981.2 513.7 L983.2 513.7 L985.1 513.8 L987.0 513.8 L988.9 513.9 L990.9 514.0 L992.8 514.0 L994.7 514.1 L996.6 514.2 L998.6 514.2 L1000.5 514.3 L1002.4 514.4 L1004.3 514.4 L1006.2 514.5 L1008.1 514.6 L1010.0 514.7 L1011.9 514.8 L1013.8 514.9 L1015.7 515.0 L1017.6 515.0 L1019.5 515.1 L1021.4 515.3 L1023.3 515.4 L1023.9 515.4"/>
<path stroke="#bfbf00" d="M200.8 516.4 L202.7 516.2 L204.5 516.1 L206.4 516.0 L208.3 515.9 L210.2 515.8 L212.1 515.8 L214.0 515.8 L216.0 515.9 L217.9 515.9 L219.9 516.0 L221.9 516.1 L223.8 516.1 L225.8 516.2 L227.8 516.3 L229.8 516.4 L231.8 516.4 L233.8 516.5 L235.7 516.5 L237.7 516.5 L239.7 516.5 L241.6 516.4 L243.6 516.4 L245.5 516.2 L247.5 516.1 L249.4 515.9 L251.3 515.6 L253.2 515.3 L255.1 514.9 L256.9 514.5 L258.8 514.0 L260.6 513.4 L262.4 512.8 L264.1 512.1 L265.9 511.3 L267.6 510.4 L269.3 509.5 L270.9 508.5 L272.5 507.4 L274.1 506.3 L275.6 505.1 L277.1 503.9 L278.5 502.6 L279.9 501.3 L281.3 499.9 L282.6 498.4 L283.8 496.9 L285.0 495.4 L286.1 493.8 L287.2 492.2 L288.2 490.5 L289.2 488.9 L290.0 487.1 L290.9 485.4 L291.6 483.6 L292.3 481.8 L292.9 479.9 L293.5 478.1 L294.0 476.2 L294.5 474.3 L295.0 472.4 L295.5 470.5 L296.0 468.6 L296.4 466.7 L296.9 464.8 L297.3 462.9 L297.8 461.1 L298.3 459.2 L298.8 457.3 L299.4 455.5 L299.9 453.7 L300.5 451.8 L301.1 450.0 L301.7 448.2 L302.2 446.4 L302.8 444.5 L303.4 442.7 L303.9 440.9 L304.5 439.0 L305.0 437.2 L305.5 435.3 L306.0 433.5 L306.5 431.6 L307.0 429.7 L307.5 427.9 L307.9 426.0 L308.4 424.1 L308.8 422.2 L309.3 420.3 L309.7 418.4 L310.1 416.5 L310.5 414.6 L310.9 412.7 L311.3 410.8 L311.7 408.9 L312.1 407.0 L312.5 405.1 L312.8 403.2 L313.2 401.3 L313.5 399.4 L313.9 397.4 L314.2 395.5 L314.5 393.6 L314.9 391.7 L315.2 389.8 L315.5 387.8 L315.8 385.9 L316.1 384.0 L316.4 382.1 L316.7 380.1 L317.0 378.2 L317.3 376.3 L317.6 374.4 L317.9 372.5 L318.2 370.5 L318.4 368.6 L318.7 366.7 L319.0 364.8 L319.2 362.9 L319.5 361.0 L319.7 359.0 L320.0 357.1 L320.2 355.2 L320.5 353.3 L320.7 351.4 L321.0 349.5 L321.2 347.5 L321.4 345.6 L321.7 343.7 L321.9 341.8 L322.1 339.9 L322.3 338.0 L322.6 336.1 L322.8 334.1 L323.0 332.2 L323.2 330.3 L323.4 328.4 L323.6 326.5 L323.8 324.6 L324.0 322.7 L324.2 320.7 L324.4 318.8 L324.6 316.9 L324.8 315.0 L325.0 313.1 L325.2 311.2 L325.4 309.2 L325.5 307.3 L325.7 305.4 L325.9 303.5 L326.1 301.6 L326.2 299.7 L326.4 297.7 L326.6 295.8 L326.8 293.9 L326.9 292.0 L327.1 290.1 L327.3 288.2 L327.4 286.2 L327.6 284.3 L327.7 282.4 L327.9 280.5 L328.1 278.6 L328.2 276.6 L328.4 274.7 L328.5 272.8 L328.7 270.9 L328.8 268.9 L329.0 267.0 L329.1 265.1 L329.3 263.2 L329.4 261.2 L329.6 259.3 L329.7 257.4 L329.9 255.5 L330.0 253.5 L330.2 251.6 L330.3 249.7 L330.5 247.7 L330.6 245.8 L330.8 243.9 L330.9 241.9 L331.0 240.0 L331.2 238.1 L331.3 236.1 L331.5 234.2 L331.6 232.3 L331.8 230.3 L331.9 228.4 L332.1 226.4 L332.2 224.5 L332.3 222.6 L332.5 220.6 L332.6 218.7 L332.8 216.7 L332.9 214.8 L333.1 212.8 L333.2 210.9 L333.4 208.9 L333.5 207.0 L333.7 205.0 L333.8 203.1 L334.0 201.1 L334.2 199.2 L334.3 197.3 L334.5 195.4 L334.6 193.4 L334.8 191.5 L335.0 189.6 L335.2 187.7 L335.3 185.8 L335.5 183.9 L335.7 182.1 L335.9 180.2 L336.1 178.4 L336.3 176.5 L336.5 174.7 L336.7 172.9 L336.9 171.1 L337.1 169.3 L337.4 167.5 L337.6 165.7 L337.9 163.8 L338.1 161.8 L338.4 159.8 L338.7 157.6 L338.9 156.2 L339.1 154.6 L339.3 153.0 L339.5 151.3 L339.7 149.6 L339.9 147.9 L340.2 146.3 L340.4 144.8 L340.8 142.8 L341.4 141.1 L342.7 142.2 L343.1 143.9 L343.5 146.1 L343.8 147.7 L344.0 149.4 L344.3 151.1 L344.5 152.8 L344.7 154.4 L344.8 156.0 L345.1 158.2 L345.2 160.2 L345.4 162.2 L345.5 164.1 L345.6 165.9 L345.7 167.7 L345.7 169.5 L345.8 171.2 L345.9 173.0 L346.1 174.9 L346.2 176.7 L346.4 178.6 L346.5 180.5 L346.7 182.4 L346.9 184.3 L347.0 186.2 L347.2 188.2 L347.4 190.2 L347.6 192.1 L347.8 194.1 L347.9 196.0 L348.1 198.0 L348.3 200.0 L348.4 201.9 L348.6 203.9 L348.7 205.8 L348.8 207.7 L349.0 209.7 L349.1 211.6 L349.2 213.5 L349.3 215.5 L349.5 217.4 L349.6 219.3 L349.7 221.2 L349.9 223.2 L350.0 225.1 L350.1 227.0 L350.3 228.9 L350.4 230.9 L350.5 232.8 L350.7 234.7 L350.8 236.6 L350.9 238.6 L351.1 240.5 L351.2 242.4 L351.3 244.3 L351.5 246.3 L351.6 248.2 L351.8 250.1 L351.9 252.0 L352.0 254.0 L352.2 255.9 L352.3 257.8 L352.4 259.7 L352.6 261.7 L352.7 263.6 L352.8 265.5 L353.0 267.4 L353.1 269.4 L353.2 271.3 L353.4 273.2 L353.5 275.2 L353.6 277.1 L353.8 279.0 L353.9 280.9 L354.0 282.9 L354.1 284.8 L354.3 286.7 L354.4 288.7 L354.5 290.6 L354.6 292.5 L354.7 294.5 L354.9 296.4 L355.0 298.3 L355.1 300.3 L355.2 302.2 L355.3 304.1 L355.4 306.1 L355.6 308.0 L355.7 310.0 L355.8 311.9 L355.9 313.8 L356.0 315.8 L356.2 317.7 L356.3 319.6 L356.5 321.6 L356.6 323.5 L356.8 325.4 L356.9 327.4 L357.1 329.3 L357.3 331.2 L357.5 333.1 L357.7 335.1 L358.0 337.0 L358.2 338.9 L358.5 340.8 L358.8 342.7 L359.1 344.6 L359.4 346.5 L359.7 348.4 L360.1 350.3 L360.5 352.1 L360.8 354.0 L361.3 355.9 L361.7 357.7 L362.2 359.6 L362.7 361.5 L363.2 363.3 L363.7 365.1 L364.3 367.0 L364.9 368.8 L365.5 370.6 L366.2 372.4 L366.9 374.2 L367.6 376.0 L368.4 377.8 L369.1 379.6 L369.9 381.4 L370.7 383.2 L371.5 384.9 L372.4 386.7 L373.2 388.5 L373.9 390.2 L374.7 392.0 L375.4 393.8 L376.1 395.6 L376.7 397.4 L377.3 399.2 L377.9 401.0 L378.5 402.8 L379.0 404.6 L379.5 406.4 L380.0 408.3 L380.5 410.1 L381.0 412.0 L381.5 413.9 L381.9 415.8 L382.4 417.6 L382.9 419.6 L383.3 421.5 L383.8 423.4 L384.4 425.3 L384.9 427.3 L385.5 429.2 L386.1 431.1 L386.8 433.0 L387.5 434.8 L388.3 436.6 L389.2 438.4 L390.2 440.1 L391.2 441.7 L392.4 443.3 L393.6 444.6 L394.9 445.8 L396.3 446.6 L397.9 447.0 L399.4 447.0 L401.1 446.6 L402.8 446.0 L404.4 445.1 L406.1 444.0 L407.7 442.8 L409.3 441.5 L410.8 440.1 L412.3 438.6 L413.7 437.1 L415.0 435.6 L416.3 434.0 L417.5 432.5 L418.6 430.9 L419.7 429.2 L420.7 427.6 L421.7 425.9 L422.6 424.2 L423.5 422.5 L424.4 420.8 L425.2 419.1 L425.9 417.4 L426.7 415.6 L427.4 413.8 L428.1 412.1 L428.7 410.3 L429.4 408.5 L430.0 406.7 L430.6 404.8 L431.2 403.0 L431.8 401.2 L432.4 399.4 L433.0 397.6 L433.6 395.7 L434.1 393.9 L434.7 392.0 L435.3 390.2 L435.9 388.4 L436.5 386.5 L437.1 384.7 L437.6 382.8 L438.2 381.0 L438.8 379.1 L439.4 377.3 L440.0 375.4 L440.6 373.6 L441.1 371.7 L441.7 369.9 L442.3 368.0 L442.9 366.2 L443.5 364.3 L444.1 362.5 L444.7 360.6 L445.3 358.8 L445.9 356.9 L446.5 355.1 L447.1 353.2 L447.7 351.4 L448.3 349.6 L448.9 347.7 L449.6 345.9 L450.2 344.1 L450.8 342.3 L451.5 340.4 L452.1 338.6 L452.8 336.8 L453.4 335.0 L454.1 333.2 L454.8 331.4 L455.4 329.6 L456.1 327.8 L456.8 326.0 L457.6 324.2 L458.3 322.4 L459.0 320.6 L459.8 318.9 L460.5 317.1 L461.3 315.3 L462.1 313.6 L462.9 311.8 L463.7 310.1 L464.5 308.3 L465.3 306.6 L466.2 304.9 L467.0 303.1 L467.9 301.4 L468.8 299.7 L469.7 298.0 L470.7 296.3 L471.6 294.6 L472.6 292.9 L473.5 291.2 L474.5 289.6 L475.6 287.9 L476.6 286.3 L477.6 284.6 L478.7 283.0 L479.8 281.4 L480.9 279.8 L482.0 278.2 L483.2 276.7 L484.3 275.1 L485.5 273.6 L486.8 272.1 L488.0 270.6 L489.3 269.2 L490.6 267.8 L491.9 266.4 L493.3 265.1 L494.7 263.8 L496.1 262.6 L497.6 261.4 L499.1 260.3 L500.7 259.3 L502.3 258.3 L504.0 257.4 L505.7 256.5 L507.4 255.7 L509.2 255.0 L511.1 254.4 L512.9 253.9 L514.9 253.4 L516.8 253.0 L518.8 252.7 L520.8 252.4 L522.8 252.2 L524.8 252.1 L526.8 252.1 L528.8 252.1 L530.8 252.2 L532.7 252.3 L534.6 252.5 L536.5 252.8 L538.4 253.1 L540.3 253.5 L542.2 253.9 L544.0 254.4 L545.8 254.9 L547.6 255.5 L549.4 256.2 L551.1 256.8 L552.9 257.6 L554.6 258.4 L556.3 259.2 L558.0 260.0 L559.7 260.9 L561.3 261.9 L563.0 262.8 L564.6 263.9 L566.2 264.9 L567.8 266.0 L569.4 267.1 L570.9 268.2 L572.5 269.4 L574.0 270.6 L575.5 271.8 L577.0 273.0 L578.5 274.2 L580.0 275.5 L581.5 276.8 L583.0 278.1 L584.4 279.4 L585.8 280.8 L587.2 282.1 L588.7 283.5 L590.1 284.9 L591.4 286.2 L592.8 287.6 L594.2 289.0 L595.5 290.4 L596.9 291.8 L598.2 293.2 L599.6 294.6 L600.9 296.0 L602.2 297.4 L603.5 298.9 L604.8 300.3 L606.1 301.8 L607.3 303.2 L608.6 304.6 L609.9 306.1 L611.1 307.6 L612.4 309.0 L613.6 310.5 L614.9 312.0 L616.1 313.4 L617.3 314.9 L618.6 316.4 L619.8 317.9 L621.0 319.4 L622.2 320.9 L623.4 322.4 L624.6 323.9 L625.8 325.4 L627.0 326.9 L628.2 328.4 L629.4 329.9 L630.6 331.4 L631.7 332.9 L632.9 334.4 L634.1 335.9 L635.3 337.5 L636.5 339.0 L637.7 340.5 L638.8 342.0 L640.0 343.5 L641.2 345.1 L642.4 346.6 L643.6 348.1 L644.8 349.6 L645.9 351.2 L647.1 352.7 L648.3 354.2 L649.5 355.7 L650.7 357.3 L651.9 358.8 L653.1 360.3 L654.3 361.8 L655.5 363.3 L656.7 364.9 L657.9 366.4 L659.1 367.9 L660.3 369.4 L661.5 370.9 L662.7 372.4 L663.9 373.9 L665.1 375.4 L666.4 376.9 L667.6 378.4 L668.8 379.9 L670.0 381.4 L671.3 382.9 L672.5 384.4 L673.8 385.9 L675.0 387.4 L676.3 388.8 L677.5 390.3 L678.8 391.8 L680.1 393.2 L681.3 394.7 L682.6 396.1 L683.9 397.6 L685.2 399.0 L686.5 400.5 L687.8 401.9 L689.1 403.3 L690.4 404.7 L691.7 406.2 L693.0 407.6 L694.3 409.0 L695.7 410.4 L697.0 411.7 L698.4 413.1 L699.7 414.5 L701.1 415.9 L702.5 417.2 L703.8 418.6 L705.2 419.9 L706.6 421.3 L708.0 422.6 L709.4 423.9 L710.8 425.2 L712.2 426.5 L713.7 427.8 L715.1 429.1 L716.6 430.4 L718.0 431.6 L719.5 432.9 L720.9 434.2 L722.4 435.4 L723.9 436.6 L725.4 437.9 L726.9 439.1 L728.4 440.3 L729.9 441.5 L731.5 442.7 L733.0 443.8 L734.5 445.0 L736.1 446.2 L737.6 447.3 L739.2 448.5 L740.8 449.6 L742.3 450.7 L743.9 451.9 L745.5 453.0 L747.1 454.1 L748.7 455.2 L750.3 456.3 L751.9 457.3 L753.5 458.4 L755.1 459.5 L756.8 460.5 L758.4 461.6 L760.0 462.6 L761.7 463.6 L763.3 464.7 L765.0 465.7 L766.7 466.7 L768.3 467.7 L770.0 468.6 L771.7 469.6 L773.4 470.6 L775.0 471.6 L776.7 472.5 L778.4 473.5 L780.1 474.4 L781.8 475.3 L783.6 476.2 L785.3 477.1 L787.0 478.0 L788.7 478.9 L790.4 479.8 L792.2 480.7 L793.9 481.5 L795.7 482.4 L797.4 483.2 L799.2 484.0 L800.9 484.8 L802.7 485.6 L804.4 486.4 L806.2 487.2 L808.0 487.9 L809.8 488.7 L811.6 489.4 L813.3 490.1 L815.1 490.8 L816.9 491.5 L818.7 492.2 L820.6 492.8 L822.4 493.5 L824.2 494.1 L826.0 494.7 L827.8 495.3 L829.7 495.9 L831.5 496.5 L833.3 497.0 L835.2 497.6 L837.0 498.1 L838.9 498.6 L840.7 499.1 L842.6 499.6 L844.4 500.1 L846.3 500.6 L848.2 501.0 L850.0 501.5 L851.9 501.9 L853.8 502.3 L855.6 502.7 L857.5 503.1 L859.4 503.5 L861.3 503.9 L863.2 504.3 L865.1 504.6 L867.0 505.0 L868.9 505.3 L870.8 505.6 L872.7 505.9 L874.6 506.3 L876.5 506.6 L878.4 506.8 L880.3 507.1 L882.2 507.4 L884.2 507.7 L886.1 507.9 L888.0 508.2 L889.9 508.4 L891.9 508.6 L893.8 508.8 L895.7 509.1 L897.6 509.3 L899.6 509.5 L901.5 509.7 L903.4 509.8 L905.4 510.0 L907.3 510.2 L909.3 510.4 L911.2 510.5 L913.1 510.7 L915.1 510.8 L917.0 511.0 L919.0 511.1 L920.9 511.2 L922.9 511.4 L924.8 511.5 L926.8 511.6 L928.7 511.7 L930.7 511.8 L932.6 511.9 L934.6 512.0 L936.5 512.1 L938.4 512.2 L940.4 512.3 L942.3 512.4 L944.3 512.5 L946.2 512.5 L948.2 512.6 L950.1 512.7 L952.1 512.8 L954.0 512.8 L956.0 512.9 L957.9 513.0 L959.9 513.0 L961.8 513.1 L963.8 513.2 L965.7 513.2 L967.7 513.3 L969.6 513.3 L971.5 513.4 L973.5 513.4 L975.4 513.5 L977.4 513.6 L979.3 513.6 L981.2 513.7 L983.2 513.7 L985.1 513.8 L987.0 513.8 L988.9 513.9 L990.9 514.0 L992.8 514.0 L994.7 514.1 L996.6 514.2 L998.6 514.2 L1000.5 514.3 L1002.4 514.4 L1004.3 514.4 L1006.2 514.5 L1008.1 514.6 L1010.0 514.7 L1011.9 514.8 L1013.8 514.9 L1015.7 515.0 L1017.6 515.0 L1019.5 515.1 L1021.4 515.3 L1023.3 515.4 L1023.9 515.4"/>
<path stroke="#c65a12" d="M200.8 516.4 L202.6 516.3 L204.4 516.2 L206.2 516.1 L208.0 516.0 L209.8 516.0 L211.7 516.0 L213.5 516.0 L215.4 516.0 L217.3 516.1 L219.1 516.1 L221.0 516.2 L222.9 516.3 L224.8 516.3 L226.7 516.4 L228.6 516.5 L230.5 516.5 L232.4 516.6 L234.3 516.6 L236.2 516.6 L238.1 516.6 L239.9 516.6 L241.8 516.5 L243.7 516.4 L245.6 516.3 L247.4 516.2 L249.3 516.0 L251.1 515.7 L252.9 515.4 L254.8 515.1 L256.6 514.7 L258.3 514.3 L260.1 513.8 L261.9 513.2 L263.6 512.6 L265.3 511.9 L267.0 511.2 L268.7 510.3 L270.3 509.5 L271.9 508.6 L273.5 507.6 L275.0 506.6 L276.6 505.5 L278.0 504.4 L279.5 503.2 L280.8 502.0 L282.2 500.7 L283.5 499.4 L284.7 498.1 L285.9 496.7 L287.1 495.2 L288.2 493.7 L289.2 492.2 L290.2 490.6 L291.1 489.0 L291.9 487.4 L292.7 485.7 L293.4 484.0 L294.1 482.3 L294.7 480.5 L295.3 478.8 L295.9 477.0 L296.4 475.2 L297.0 473.4 L297.5 471.5 L298.0 469.7 L298.5 467.9 L299.0 466.0 L299.5 464.2 L300.0 462.4 L300.5 460.6 L301.1 458.8 L301.7 457.1 L302.3 455.3 L302.9 453.6 L303.6 451.8 L304.2 450.1 L304.9 448.4 L305.5 446.7 L306.1 444.9 L306.7 443.2 L307.3 441.4 L307.9 439.7 L308.4 437.9 L308.9 436.1 L309.4 434.4 L309.9 432.6 L310.3 430.8 L310.8 429.0 L311.2 427.2 L311.6 425.4 L312.0 423.6 L312.4 421.7 L312.8 419.9 L313.2 418.1 L313.5 416.3 L313.9 414.5 L314.2 412.6 L314.6 410.8 L314.9 409.0 L315.3 407.1 L315.6 405.3 L315.9 403.5 L316.2 401.7 L316.6 399.8 L316.9 398.0 L317.2 396.2 L317.5 394.3 L317.8 392.5 L318.1 390.7 L318.4 388.8 L318.6 387.0 L318.9 385.1 L319.2 383.3 L319.5 381.5 L319.7 379.6 L320.0 377.8 L320.3 376.0 L320.5 374.1 L320.8 372.3 L321.0 370.4 L321.3 368.6 L321.5 366.8 L321.8 364.9 L322.0 363.1 L322.2 361.2 L322.5 359.4 L322.7 357.5 L322.9 355.7 L323.1 353.8 L323.3 352.0 L323.6 350.2 L323.8 348.3 L324.0 346.5 L324.2 344.6 L324.4 342.8 L324.6 340.9 L324.8 339.1 L325.0 337.2 L325.2 335.4 L325.3 333.5 L325.5 331.7 L325.7 329.8 L325.9 328.0 L326.1 326.1 L326.2 324.3 L326.4 322.4 L326.6 320.6 L326.8 318.7 L326.9 316.9 L327.1 315.0 L327.3 313.2 L327.4 311.3 L327.6 309.5 L327.7 307.6 L327.9 305.8 L328.1 303.9 L328.2 302.1 L328.4 300.2 L328.5 298.4 L328.7 296.5 L328.8 294.7 L329.0 292.8 L329.1 291.0 L329.2 289.1 L329.4 287.3 L329.5 285.4 L329.7 283.6 L329.8 281.7 L329.9 279.9 L330.1 278.0 L330.2 276.2 L330.4 274.3 L330.5 272.5 L330.6 270.6 L330.8 268.8 L330.9 266.9 L331.0 265.1 L331.2 263.2 L331.3 261.4 L331.4 259.6 L331.6 257.7 L331.7 255.9 L331.9 254.0 L332.0 252.2 L332.1 250.3 L332.3 248.5 L332.4 246.6 L332.6 244.8 L332.7 242.9 L332.9 241.1 L333.0 239.2 L333.2 237.4 L333.4 235.5 L333.5 233.7 L333.7 231.9 L333.9 230.0 L334.1 228.2 L334.3 226.3 L334.5 224.5 L334.7 222.6 L334.9 220.8 L335.1 218.9 L335.3 217.1 L335.6 215.2 L335.8 213.4 L336.0 211.6 L336.3 209.7 L336.6 207.9 L336.8 206.0 L337.1 204.2 L337.4 202.3 L337.7 200.5 L338.0 198.6 L338.3 196.8 L338.6 194.9 L339.0 192.8 L339.3 190.6 L339.6 189.1 L339.9 187.6 L340.3 185.6 L341.0 183.9 L342.2 184.9 L342.7 186.7 L343.2 188.9 L343.5 190.4 L343.7 192.0 L343.9 193.5 L344.1 195.6 L344.3 197.7 L344.4 199.6 L344.6 201.6 L344.7 203.5 L344.9 205.3 L345.0 207.2 L345.2 209.0 L345.3 210.8 L345.4 212.6 L345.5 214.4 L345.7 216.2 L345.8 218.1 L345.9 219.9 L346.1 221.7 L346.2 223.5 L346.3 225.3 L346.4 227.2 L346.6 229.0 L346.7 230.8 L346.8 232.6 L347.0 234.5 L347.1 236.3 L347.2 238.2 L347.4 240.0 L347.5 241.9 L347.6 243.7 L347.8 245.6 L347.9 247.4 L348.0 249.3 L348.2 251.1 L348.3 253.0 L348.4 254.8 L348.6 256.7 L348.7 258.6 L348.8 260.4 L349.0 262.3 L349.1 264.1 L349.2 266.0 L349.4 267.9 L349.5 269.7 L349.7 271.6 L349.8 273.5 L349.9 275.3 L350.1 277.2 L350.2 279.0 L350.4 280.9 L350.5 282.8 L350.6 284.6 L350.8 286.5 L350.9 288.4 L351.1 290.2 L351.2 292.1 L351.3 293.9 L351.5 295.8 L351.6 297.6 L351.8 299.5 L351.9 301.3 L352.1 303.2 L352.2 305.0 L352.4 306.9 L352.5 308.7 L352.6 310.6 L352.8 312.4 L352.9 314.2 L353.1 316.1 L353.2 317.9 L353.4 319.7 L353.5 321.6 L353.7 323.4 L353.9 325.3 L354.0 327.1 L354.2 328.9 L354.3 330.8 L354.5 332.6 L354.7 334.5 L354.8 336.3 L355.0 338.1 L355.2 340.0 L355.3 341.8 L355.5 343.7 L355.7 345.5 L355.9 347.4 L356.1 349.2 L356.2 351.1 L356.4 352.9 L356.6 354.8 L356.8 356.7 L357.0 358.5 L357.2 360.4 L357.4 362.3 L357.7 364.1 L357.9 366.0 L358.2 367.8 L358.5 369.7 L358.8 371.5 L359.2 373.3 L359.6 375.1 L360.0 376.9 L360.5 378.7 L361.0 380.5 L361.6 382.2 L362.2 383.9 L362.8 385.6 L363.5 387.3 L364.2 389.0 L364.9 390.7 L365.7 392.4 L366.4 394.1 L367.2 395.8 L368.0 397.4 L368.8 399.1 L369.6 400.8 L370.4 402.4 L371.2 404.1 L372.0 405.8 L372.8 407.4 L373.6 409.1 L374.3 410.8 L375.1 412.5 L375.8 414.2 L376.5 416.0 L377.1 417.7 L377.8 419.5 L378.4 421.3 L378.9 423.0 L379.5 424.9 L380.0 426.7 L380.5 428.5 L381.1 430.3 L381.6 432.1 L382.1 433.9 L382.7 435.7 L383.3 437.4 L384.0 439.2 L384.7 440.9 L385.4 442.6 L386.2 444.2 L387.1 445.8 L388.1 447.4 L389.1 449.0 L390.3 450.4 L391.5 451.8 L392.9 453.1 L394.4 454.0 L396.0 454.6 L397.7 454.8 L399.5 454.6 L401.4 454.1 L403.3 453.4 L405.1 452.5 L406.8 451.5 L408.4 450.5 L409.9 449.3 L411.4 448.2 L412.7 446.9 L414.0 445.6 L415.2 444.2 L416.3 442.8 L417.4 441.3 L418.4 439.8 L419.3 438.2 L420.2 436.6 L421.0 435.0 L421.8 433.3 L422.5 431.6 L423.3 429.9 L423.9 428.2 L424.6 426.4 L425.2 424.7 L425.9 422.9 L426.5 421.1 L427.1 419.3 L427.7 417.5 L428.3 415.8 L428.9 414.0 L429.4 412.2 L430.0 410.4 L430.6 408.7 L431.2 406.9 L431.8 405.1 L432.3 403.3 L432.9 401.6 L433.5 399.8 L434.0 398.0 L434.6 396.3 L435.1 394.5 L435.7 392.7 L436.2 390.9 L436.8 389.2 L437.3 387.4 L437.9 385.6 L438.5 383.9 L439.0 382.1 L439.6 380.3 L440.1 378.6 L440.7 376.8 L441.2 375.0 L441.8 373.3 L442.3 371.5 L442.9 369.7 L443.4 368.0 L444.0 366.2 L444.5 364.5 L445.1 362.7 L445.7 360.9 L446.2 359.2 L446.8 357.4 L447.4 355.6 L447.9 353.9 L448.5 352.1 L449.1 350.4 L449.7 348.6 L450.3 346.8 L450.9 345.1 L451.5 343.3 L452.1 341.6 L452.7 339.8 L453.3 338.1 L453.9 336.3 L454.5 334.6 L455.2 332.8 L455.8 331.1 L456.4 329.4 L457.1 327.6 L457.7 325.9 L458.4 324.1 L459.1 322.4 L459.7 320.7 L460.4 319.0 L461.1 317.2 L461.8 315.5 L462.5 313.8 L463.2 312.1 L463.9 310.4 L464.7 308.7 L465.4 307.0 L466.2 305.3 L466.9 303.6 L467.7 301.9 L468.5 300.2 L469.2 298.5 L470.0 296.8 L470.9 295.1 L471.7 293.4 L472.5 291.8 L473.3 290.1 L474.2 288.4 L475.1 286.8 L475.9 285.1 L476.9 283.5 L477.8 281.9 L478.7 280.3 L479.7 278.7 L480.7 277.2 L481.7 275.6 L482.7 274.1 L483.8 272.6 L484.9 271.2 L486.1 269.7 L487.3 268.3 L488.5 267.0 L489.7 265.6 L491.0 264.4 L492.4 263.1 L493.7 261.9 L495.2 260.7 L496.6 259.6 L498.2 258.5 L499.7 257.5 L501.4 256.6 L503.0 255.6 L504.7 254.8 L506.5 254.0 L508.3 253.2 L510.1 252.5 L511.9 251.9 L513.7 251.4 L515.6 250.9 L517.5 250.5 L519.3 250.1 L521.2 249.8 L523.0 249.6 L524.8 249.5 L526.7 249.4 L528.5 249.4 L530.3 249.5 L532.1 249.6 L533.8 249.8 L535.6 250.0 L537.4 250.3 L539.1 250.7 L540.8 251.1 L542.6 251.6 L544.3 252.1 L546.0 252.7 L547.7 253.3 L549.4 254.0 L551.0 254.7 L552.7 255.4 L554.4 256.2 L556.0 257.1 L557.6 257.9 L559.2 258.9 L560.8 259.8 L562.4 260.8 L564.0 261.8 L565.6 262.8 L567.1 263.9 L568.6 265.0 L570.2 266.1 L571.7 267.2 L573.2 268.4 L574.7 269.5 L576.1 270.7 L577.6 271.9 L579.1 273.2 L580.5 274.4 L581.9 275.6 L583.3 276.9 L584.7 278.1 L586.1 279.4 L587.5 280.7 L588.8 282.0 L590.2 283.3 L591.5 284.6 L592.8 285.9 L594.1 287.2 L595.4 288.5 L596.7 289.9 L598.0 291.2 L599.3 292.6 L600.6 293.9 L601.8 295.3 L603.0 296.7 L604.3 298.1 L605.5 299.4 L606.7 300.8 L607.9 302.2 L609.2 303.6 L610.4 305.1 L611.5 306.5 L612.7 307.9 L613.9 309.3 L615.1 310.7 L616.3 312.2 L617.4 313.6 L618.6 315.1 L619.7 316.5 L620.9 317.9 L622.0 319.4 L623.2 320.8 L624.3 322.3 L625.4 323.8 L626.6 325.2 L627.7 326.7 L628.8 328.2 L630.0 329.6 L631.1 331.1 L632.2 332.6 L633.3 334.0 L634.5 335.5 L635.6 337.0 L636.7 338.4 L637.8 339.9 L638.9 341.4 L640.1 342.9 L641.2 344.3 L642.3 345.8 L643.4 347.3 L644.6 348.7 L645.7 350.2 L646.8 351.7 L648.0 353.1 L649.1 354.6 L650.2 356.1 L651.4 357.5 L652.5 359.0 L653.7 360.4 L654.8 361.9 L656.0 363.3 L657.1 364.8 L658.3 366.2 L659.4 367.7 L660.6 369.1 L661.7 370.6 L662.9 372.0 L664.1 373.5 L665.2 374.9 L666.4 376.3 L667.6 377.7 L668.8 379.2 L670.0 380.6 L671.1 382.0 L672.3 383.4 L673.5 384.8 L674.7 386.3 L675.9 387.7 L677.1 389.1 L678.4 390.5 L679.6 391.9 L680.8 393.2 L682.0 394.6 L683.3 396.0 L684.5 397.4 L685.7 398.8 L687.0 400.1 L688.2 401.5 L689.5 402.9 L690.7 404.2 L692.0 405.6 L693.3 406.9 L694.6 408.3 L695.8 409.6 L697.1 410.9 L698.4 412.3 L699.7 413.6 L701.0 414.9 L702.3 416.2 L703.7 417.5 L705.0 418.8 L706.3 420.1 L707.7 421.4 L709.0 422.6 L710.4 423.9 L711.7 425.2 L713.1 426.4 L714.5 427.7 L715.8 428.9 L717.2 430.2 L718.6 431.4 L720.0 432.6 L721.4 433.9 L722.8 435.1 L724.3 436.3 L725.7 437.5 L727.1 438.7 L728.6 439.9 L730.0 441.0 L731.5 442.2 L732.9 443.4 L734.4 444.5 L735.9 445.7 L737.4 446.8 L738.9 447.9 L740.3 449.1 L741.8 450.2 L743.4 451.3 L744.9 452.4 L746.4 453.5 L747.9 454.5 L749.4 455.6 L751.0 456.7 L752.5 457.7 L754.1 458.8 L755.6 459.8 L757.2 460.8 L758.7 461.9 L760.3 462.9 L761.9 463.9 L763.5 464.9 L765.1 465.8 L766.7 466.8 L768.3 467.8 L769.9 468.7 L771.5 469.7 L773.1 470.6 L774.7 471.5 L776.3 472.4 L778.0 473.3 L779.6 474.2 L781.2 475.1 L782.9 476.0 L784.5 476.8 L786.2 477.7 L787.8 478.5 L789.5 479.3 L791.2 480.2 L792.8 481.0 L794.5 481.8 L796.2 482.5 L797.9 483.3 L799.6 484.1 L801.3 484.8 L803.0 485.6 L804.7 486.3 L806.4 487.0 L808.1 487.7 L809.8 488.4 L811.5 489.1 L813.2 489.8 L815.0 490.4 L816.7 491.1 L818.4 491.7 L820.2 492.3 L821.9 492.9 L823.7 493.5 L825.4 494.1 L827.2 494.7 L828.9 495.2 L830.7 495.8 L832.4 496.3 L834.2 496.8 L836.0 497.3 L837.8 497.8 L839.5 498.3 L841.3 498.8 L843.1 499.3 L844.9 499.7 L846.7 500.2 L848.5 500.6 L850.3 501.1 L852.1 501.5 L853.9 501.9 L855.7 502.3 L857.5 502.7 L859.3 503.1 L861.1 503.4 L862.9 503.8 L864.7 504.2 L866.5 504.5 L868.3 504.8 L870.2 505.2 L872.0 505.5 L873.8 505.8 L875.7 506.1 L877.5 506.4 L879.3 506.7 L881.1 507.0 L883.0 507.2 L884.8 507.5 L886.7 507.7 L888.5 508.0 L890.4 508.2 L892.2 508.5 L894.0 508.7 L895.9 508.9 L897.7 509.1 L899.6 509.3 L901.4 509.5 L903.3 509.7 L905.2 509.9 L907.0 510.1 L908.9 510.3 L910.7 510.5 L912.6 510.6 L914.4 510.8 L916.3 510.9 L918.2 511.1 L920.0 511.2 L921.9 511.4 L923.8 511.5 L925.6 511.6 L927.5 511.8 L929.4 511.9 L931.2 512.0 L933.1 512.1 L935.0 512.2 L936.8 512.3 L938.7 512.4 L940.6 512.5 L942.4 512.6 L944.3 512.7 L946.2 512.8 L948.0 512.9 L949.9 513.0 L951.8 513.0 L953.6 513.1 L955.5 513.2 L957.4 513.3 L959.2 513.3 L961.1 513.4 L963.0 513.5 L964.8 513.5 L966.7 513.6 L968.6 513.6 L970.4 513.7 L972.3 513.8 L974.2 513.8 L976.0 513.9 L977.9 513.9 L979.7 514.0 L981.6 514.0 L983.5 514.1 L985.3 514.1 L987.2 514.2 L989.0 514.2 L990.9 514.3 L992.7 514.3 L994.6 514.4 L996.4 514.4 L998.3 514.5 L1000.1 514.5 L1002.0 514.6 L1003.8 514.6 L1005.6 514.7 L1007.5 514.7 L1009.3 514.8 L1011.2 514.8 L1013.0 514.9 L1014.8 515.0 L1016.7 515.0 L1018.5 515.1 L1020.3 515.2 L1022.1 515.2 L1024.0 515.3"/>
<path stroke="#c65a12" d="M200.8 516.4 L202.6 516.3 L204.4 516.2 L206.2 516.1 L208.0 516.0 L209.8 516.0 L211.7 516.0 L213.5 516.0 L215.4 516.0 L217.3 516.1 L219.1 516.1 L221.0 516.2 L222.9 516.3 L224.8 516.3 L226.7 516.4 L228.6 516.5 L230.5 516.5 L232.4 516.6 L234.3 516.6 L236.2 516.6 L238.1 516.6 L239.9 516.6 L241.8 516.5 L243.7 516.4 L245.6 516.3 L247.4 516.2 L249.3 516.0 L251.1 515.7 L252.9 515.4 L254.8 515.1 L256.6 514.7 L258.3 514.3 L260.1 513.8 L261.9 513.2 L263.6 512.6 L265.3 511.9 L267.0 511.2 L268.7 510.3 L270.3 509.5 L271.9 508.6 L273.5 507.6 L275.0 506.6 L276.6 505.5 L278.0 504.4 L279.5 503.2 L280.8 502.0 L282.2 500.7 L283.5 499.4 L284.7 498.1 L285.9 496.7 L287.1 495.2 L288.2 493.7 L289.2 492.2 L290.2 490.6 L291.1 489.0 L291.9 487.4 L292.7 485.7 L293.4 484.0 L294.1 482.3 L294.7 480.5 L295.3 478.8 L295.9 477.0 L296.4 475.2 L297.0 473.4 L297.5 471.5 L298.0 469.7 L298.5 467.9 L299.0 466.0 L299.5 464.2 L300.0 462.4 L300.5 460.6 L301.1 458.8 L301.7 457.1 L302.3 455.3 L302.9 453.6 L303.6 451.8 L304.2 450.1 L304.9 448.4 L305.5 446.7 L306.1 444.9 L306.7 443.2 L307.3 441.4 L307.9 439.7 L308.4 437.9 L308.9 436.1 L309.4 434.4 L309.9 432.6 L310.3 430.8 L310.8 429.0 L311.2 427.2 L311.6 425.4 L312.0 423.6 L312.4 421.7 L312.8 419.9 L313.2 418.1 L313.5 416.3 L313.9 414.5 L314.2 412.6 L314.6 410.8 L314.9 409.0 L315.3 407.1 L315.6 405.3 L315.9 403.5 L316.2 401.7 L316.6 399.8 L316.9 398.0 L317.2 396.2 L317.5 394.3 L317.8 392.5 L318.1 390.7 L318.4 388.8 L318.6 387.0 L318.9 385.1 L319.2 383.3 L319.5 381.5 L319.7 379.6 L320.0 377.8 L320.3 376.0 L320.5 374.1 L320.8 372.3 L321.0 370.4 L321.3 368.6 L321.5 366.8 L321.8 364.9 L322.0 363.1 L322.2 361.2 L322.5 359.4 L322.7 357.5 L322.9 355.7 L323.1 353.8 L323.3 352.0 L323.6 350.2 L323.8 348.3 L324.0 346.5 L324.2 344.6 L324.4 342.8 L324.6 340.9 L324.8 339.1 L325.0 337.2 L325.2 335.4 L325.3 333.5 L325.5 331.7 L325.7 329.8 L325.9 328.0 L326.1 326.1 L326.2 324.3 L326.4 322.4 L326.6 320.6 L326.8 318.7 L326.9 316.9 L327.1 315.0 L327.3 313.2 L327.4 311.3 L327.6 309.5 L327.7 307.6 L327.9 305.8 L328.1 303.9 L328.2 302.1 L328.4 300.2 L328.5 298.4 L328.7 296.5 L328.8 294.7 L329.0 292.8 L329.1 291.0 L329.2 289.1 L329.4 287.3 L329.5 285.4 L329.7 283.6 L329.8 281.7 L329.9 279.9 L330.1 278.0 L330.2 276.2 L330.4 274.3 L330.5 272.5 L330.6 270.6 L330.8 268.8 L330.9 266.9 L331.0 265.1 L331.2 263.2 L331.3 261.4 L331.4 259.6 L331.6 257.7 L331.7 255.9 L331.9 254.0 L332.0 252.2 L332.1 250.3 L332.3 248.5 L332.4 246.6 L332.6 244.8 L332.7 242.9 L332.9 241.1 L333.0 239.2 L333.2 237.4 L333.4 235.5 L333.5 233.7 L333.7 231.9 L333.9 230.0 L334.1 228.2 L334.3 226.3 L334.5 224.5 L334.7 222.6 L334.9 220.8 L335.1 218.9 L335.3 217.1 L335.6 215.2 L335.8 213.4 L336.0 211.6 L336.3 209.7 L336.6 207.9 L336.8 206.0 L337.1 204.2 L337.4 202.3 L337.7 200.5 L338.0 198.6 L338.3 196.8 L338.6 194.9 L339.0 192.8 L339.3 190.6 L339.6 189.1 L339.9 187.6 L340.3 185.6 L341.0 183.9 L342.2 184.9 L342.7 186.7 L343.2 188.9 L343.5 190.4 L343.7 192.0 L343.9 193.5 L344.1 195.6 L344.3 197.7 L344.4 199.6 L344.6 201.6 L344.7 203.5 L344.9 205.3 L345.0 207.2 L345.2 209.0 L345.3 210.8 L345.4 212.6 L345.5 214.4 L345.7 216.2 L345.8 218.1 L345.9 219.9 L346.1 221.7 L346.2 223.5 L346.3 225.3 L346.4 227.2 L346.6 229.0 L346.7 230.8 L346.8 232.6 L347.0 234.5 L347.1 236.3 L347.2 238.2 L347.4 240.0 L347.5 241.9 L347.6 243.7 L347.8 245.6 L347.9 247.4 L348.0 249.3 L348.2 251.1 L348.3 253.0 L348.4 254.8 L348.6 256.7 L348.7 258.6 L348.8 260.4 L349.0 262.3 L349.1 264.1 L349.2 266.0 L349.4 267.9 L349.5 269.7 L349.7 271.6 L349.8 273.5 L349.9 275.3 L350.1 277.2 L350.2 279.0 L350.4 280.9 L350.5 282.8 L350.6 284.6 L350.8 286.5 L350.9 288.4 L351.1 290.2 L351.2 292.1 L351.3 293.9 L351.5 295.8 L351.6 297.6 L351.8 299.5 L351.9 301.3 L352.1 303.2 L352.2 305.0 L352.4 306.9 L352.5 308.7 L352.6 310.6 L352.8 312.4 L352.9 314.2 L353.1 316.1 L353.2 317.9 L353.4 319.7 L353.5 321.6 L353.7 323.4 L353.9 325.3 L354.0 327.1 L354.2 328.9 L354.3 330.8 L354.5 332.6 L354.7 334.5 L354.8 336.3 L355.0 338.1 L355.2 340.0 L355.3 341.8 L355.5 343.7 L355.7 345.5 L355.9 347.4 L356.1 349.2 L356.2 351.1 L356.4 352.9 L356.6 354.8 L356.8 356.7 L357.0 358.5 L357.2 360.4 L357.4 362.3 L357.7 364.1 L357.9 366.0 L358.2 367.8 L358.5 369.7 L358.8 371.5 L359.2 373.3 L359.6 375.1 L360.0 376.9 L360.5 378.7 L361.0 380.5 L361.6 382.2 L362.2 383.9 L362.8 385.6 L363.5 387.3 L364.2 389.0 L364.9 390.7 L365.7 392.4 L366.4 394.1 L367.2 395.8 L368.0 397.4 L368.8 399.1 L369.6 400.8 L370.4 402.4 L371.2 404.1 L372.0 405.8 L372.8 407.4 L373.6 409.1 L374.3 410.8 L375.1 412.5 L375.8 414.2 L376.5 416.0 L377.1 417.7 L377.8 419.5 L378.4 421.3 L378.9 423.0 L379.5 424.9 L380.0 426.7 L380.5 428.5 L381.1 430.3 L381.6 432.1 L382.1 433.9 L382.7 435.7 L383.3 437.4 L384.0 439.2 L384.7 440.9 L385.4 442.6 L386.2 444.2 L387.1 445.8 L388.1 447.4 L389.1 449.0 L390.3 450.4 L391.5 451.8 L392.9 453.1 L394.4 454.0 L396.0 454.6 L397.7 454.8 L399.5 454.6 L401.4 454.1 L403.3 453.4 L405.1 452.5 L406.8 451.5 L408.4 450.5 L409.9 449.3 L411.4 448.2 L412.7 446.9 L414.0 445.6 L415.2 444.2 L416.3 442.8 L417.4 441.3 L418.4 439.8 L419.3 438.2 L420.2 436.6 L421.0 435.0 L421.8 433.3 L422.5 431.6 L423.3 429.9 L423.9 428.2 L424.6 426.4 L425.2 424.7 L425.9 422.9 L426.5 421.1 L427.1 419.3 L427.7 417.5 L428.3 415.8 L428.9 414.0 L429.4 412.2 L430.0 410.4 L430.6 408.7 L431.2 406.9 L431.8 405.1 L432.3 403.3 L432.9 401.6 L433.5 399.8 L434.0 398.0 L434.6 396.3 L435.1 394.5 L435.7 392.7 L436.2 390.9 L436.8 389.2 L437.3 387.4 L437.9 385.6 L438.5 383.9 L439.0 382.1 L439.6 380.3 L440.1 378.6 L440.7 376.8 L441.2 375.0 L441.8 373.3 L442.3 371.5 L442.9 369.7 L443.4 368.0 L444.0 366.2 L444.5 364.5 L445.1 362.7 L445.7 360.9 L446.2 359.2 L446.8 357.4 L447.4 355.6 L447.9 353.9 L448.5 352.1 L449.1 350.4 L449.7 348.6 L450.3 346.8 L450.9 345.1 L451.5 343.3 L452.1 341.6 L452.7 339.8 L453.3 338.1 L453.9 336.3 L454.5 334.6 L455.2 332.8 L455.8 331.1 L456.4 329.4 L457.1 327.6 L457.7 325.9 L458.4 324.1 L459.1 322.4 L459.7 320.7 L460.4 319.0 L461.1 317.2 L461.8 315.5 L462.5 313.8 L463.2 312.1 L463.9 310.4 L464.7 308.7 L465.4 307.0 L466.2 305.3 L466.9 303.6 L467.7 301.9 L468.5 300.2 L469.2 298.5 L470.0 296.8 L470.9 295.1 L471.7 293.4 L472.5 291.8 L473.3 290.1 L474.2 288.4 L475.1 286.8 L475.9 285.1 L476.9 283.5 L477.8 281.9 L478.7 280.3 L479.7 278.7 L480.7 277.2 L481.7 275.6 L482.7 274.1 L483.8 272.6 L484.9 271.2 L486.1 269.7 L487.3 268.3 L488.5 267.0 L489.7 265.6 L491.0 264.4 L492.4 263.1 L493.7 261.9 L495.2 260.7 L496.6 259.6 L498.2 258.5 L499.7 257.5 L501.4 256.6 L503.0 255.6 L504.7 254.8 L506.5 254.0 L508.3 253.2 L510.1 252.5 L511.9 251.9 L513.7 251.4 L515.6 250.9 L517.5 250.5 L519.3 250.1 L521.2 249.8 L523.0 249.6 L524.8 249.5 L526.7 249.4 L528.5 249.4 L530.3 249.5 L532.1 249.6 L533.8 249.8 L535.6 250.0 L537.4 250.3 L539.1 250.7 L540.8 251.1 L542.6 251.6 L544.3 252.1 L546.0 252.7 L547.7 253.3 L549.4 254.0 L551.0 254.7 L552.7 255.4 L554.4 256.2 L556.0 257.1 L557.6 257.9 L559.2 258.9 L560.8 259.8 L562.4 260.8 L564.0 261.8 L565.6 262.8 L567.1 263.9 L568.6 265.0 L570.2 266.1 L571.7 267.2 L573.2 268.4 L574.7 269.5 L576.1 270.7 L577.6 271.9 L579.1 273.2 L580.5 274.4 L581.9 275.6 L583.3 276.9 L584.7 278.1 L586.1 279.4 L587.5 280.7 L588.8 282.0 L590.2 283.3 L591.5 284.6 L592.8 285.9 L594.1 287.2 L595.4 288.5 L596.7 289.9 L598.0 291.2 L599.3 292.6 L600.6 293.9 L601.8 295.3 L603.0 296.7 L604.3 298.1 L605.5 299.4 L606.7 300.8 L607.9 302.2 L609.2 303.6 L610.4 305.1 L611.5 306.5 L612.7 307.9 L613.9 309.3 L615.1 310.7 L616.3 312.2 L617.4 313.6 L618.6 315.1 L619.7 316.5 L620.9 317.9 L622.0 319.4 L623.2 320.8 L624.3 322.3 L625.4 323.8 L626.6 325.2 L627.7 326.7 L628.8 328.2 L630.0 329.6 L631.1 331.1 L632.2 332.6 L633.3 334.0 L634.5 335.5 L635.6 337.0 L636.7 338.4 L637.8 339.9 L638.9 341.4 L640.1 342.9 L641.2 344.3 L642.3 345.8 L643.4 347.3 L644.6 348.7 L645.7 350.2 L646.8 351.7 L648.0 353.1 L649.1 354.6 L650.2 356.1 L651.4 357.5 L652.5 359.0 L653.7 360.4 L654.8 361.9 L656.0 363.3 L657.1 364.8 L658.3 366.2 L659.4 367.7 L660.6 369.1 L661.7 370.6 L662.9 372.0 L664.1 373.5 L665.2 374.9 L666.4 376.3 L667.6 377.7 L668.8 379.2 L670.0 380.6 L671.1 382.0 L672.3 383.4 L673.5 384.8 L674.7 386.3 L675.9 387.7 L677.1 389.1 L678.4 390.5 L679.6 391.9 L680.8 393.2 L682.0 394.6 L683.3 396.0 L684.5 397.4 L685.7 398.8 L687.0 400.1 L688.2 401.5 L689.5 402.9 L690.7 404.2 L692.0 405.6 L693.3 406.9 L694.6 408.3 L695.8 409.6 L697.1 410.9 L698.4 412.3 L699.7 413.6 L701.0 414.9 L702.3 416.2 L703.7 417.5 L705.0 418.8 L706.3 420.1 L707.7 421.4 L709.0 422.6 L710.4 423.9 L711.7 425.2 L713.1 426.4 L714.5 427.7 L715.8 428.9 L717.2 430.2 L718.6 431.4 L720.0 432.6 L721.4 433.9 L722.8 435.1 L724.3 436.3 L725.7 437.5 L727.1 438.7 L728.6 439.9 L730.0 441.0 L731.5 442.2 L732.9 443.4 L734.4 444.5 L735.9 445.7 L737.4 446.8 L738.9 447.9 L740.3 449.1 L741.8 450.2 L743.4 451.3 L744.9 452.4 L746.4 453.5 L747.9 454.5 L749.4 455.6 L751.0 456.7 L752.5 457.7 L754.1 458.8 L755.6 459.8 L757.2 460.8 L758.7 461.9 L760.3 462.9 L761.9 463.9 L763.5 464.9 L765.1 465.8 L766.7 466.8 L768.3 467.8 L769.9 468.7 L771.5 469.7 L773.1 470.6 L774.7 471.5 L776.3 472.4 L778.0 473.3 L779.6 474.2 L781.2 475.1 L782.9 476.0 L784.5 476.8 L786.2 477.7 L787.8 478.5 L789.5 479.3 L791.2 480.2 L792.8 481.0 L794.5 481.8 L796.2 482.5 L797.9 483.3 L799.6 484.1 L801.3 484.8 L803.0 485.6 L804.7 486.3 L806.4 487.0 L808.1 487.7 L809.8 488.4 L811.5 489.1 L813.2 489.8 L815.0 490.4 L816.7 491.1 L818.4 491.7 L820.2 492.3 L821.9 492.9 L823.7 493.5 L825.4 494.1 L827.2 494.7 L828.9 495.2 L830.7 495.8 L832.4 496.3 L834.2 496.8 L836.0 497.3 L837.8 497.8 L839.5 498.3 L841.3 498.8 L843.1 499.3 L844.9 499.7 L846.7 500.2 L848.5 500.6 L850.3 501.1 L852.1 501.5 L853.9 501.9 L855.7 502.3 L857.5 502.7 L859.3 503.1 L861.1 503.4 L862.9 503.8 L864.7 504.2 L866.5 504.5 L868.3 504.8 L870.2 505.2 L872.0 505.5 L873.8 505.8 L875.7 506.1 L877.5 506.4 L879.3 506.7 L881.1 507.0 L883.0 507.2 L884.8 507.5 L886.7 507.7 L888.5 508.0 L890.4 508.2 L892.2 508.5 L894.0 508.7 L895.9 508.9 L897.7 509.1 L899.6 509.3 L901.4 509.5 L903.3 509.7 L905.2 509.9 L907.0 510.1 L908.9 510.3 L910.7 510.5 L912.6 510.6 L914.4 510.8 L916.3 510.9 L918.2 511.1 L920.0 511.2 L921.9 511.4 L923.8 511.5 L925.6 511.6 L927.5 511.8 L929.4 511.9 L931.2 512.0 L933.1 512.1 L935.0 512.2 L936.8 512.3 L938.7 512.4 L940.6 512.5 L942.4 512.6 L944.3 512.7 L946.2 512.8 L948.0 512.9 L949.9 513.0 L951.8 513.0 L953.6 513.1 L955.5 513.2 L957.4 513.3 L959.2 513.3 L961.1 513.4 L963.0 513.5 L964.8 513.5 L966.7 513.6 L968.6 513.6 L970.4 513.7 L972.3 513.8 L974.2 513.8 L976.0 513.9 L977.9 513.9 L979.7 514.0 L981.6 514.0 L983.5 514.1 L985.3 514.1 L987.2 514.2 L989.0 514.2 L990.9 514.3 L992.7 514.3 L994.6 514.4 L996.4 514.4 L998.3 514.5 L1000.1 514.5 L1002.0 514.6 L1003.8 514.6 L1005.6 514.7 L1007.5 514.7 L1009.3 514.8 L1011.2 514.8 L1013.0 514.9 L1014.8 515.0 L1016.7 515.0 L1018.5 515.1 L1020.3 515.2 L1022.1 515.2 L1024.0 515.3"/>
</g>
<g font-size="17" fill="#000" text-anchor="middle"><text transform="translate(199.5 545.6) scale(1.09 1.0)">380</text><text transform="translate(302.2 545.6) scale(1.09 1.0)">430</text><text transform="translate(405.2 545.6) scale(1.09 1.0)">480</text><text transform="translate(509.2 545.6) scale(1.09 1.0)">530</text><text transform="translate(612.2 545.6) scale(1.09 1.0)">580</text><text transform="translate(714.7 545.6) scale(1.09 1.0)">630</text><text transform="translate(817.7 545.6) scale(1.09 1.0)">680</text><text transform="translate(920.7 545.6) scale(1.09 1.0)">730</text><text transform="translate(1024.4 545.6) scale(1.09 1.0)">780</text></g>
<g font-size="17" fill="#000" text-anchor="end"><text transform="translate(182 522.9) scale(1 1.05)">0%</text><text transform="translate(182 425.5) scale(1 1.05)">20%</text><text transform="translate(182 328.1) scale(1 1.05)">40%</text><text transform="translate(182 230.7) scale(1 1.05)">60%</text><text transform="translate(182 133.3) scale(1 1.05)">80%</text><text transform="translate(182 35.9) scale(1 1.05)">100%</text></g>
<text x="572.6" y="603" font-size="21.7" font-weight="bold" text-anchor="middle">Wavelength (nm)</text>
<text transform="translate(104,241) rotate(-90)" font-size="21.5" font-weight="bold" text-anchor="middle">Relative Radiant Power</text>
<g>
<polygon fill="#4f7dc6" points="1053.2,236.55 1054.2,235.55 1101.2,235.55 1103.6,238.20 1101.2,240.85 1054.2,240.85 1053.2,239.85"/>
<polygon fill="#bfbf00" points="1053.2,273.35 1054.2,272.35 1101.2,272.35 1103.6,275.00 1101.2,277.65 1054.2,277.65 1053.2,276.65"/>
<polygon fill="#c65a12" points="1053.2,310.35 1054.2,309.35 1101.2,309.35 1103.6,312.00 1101.2,314.65 1054.2,314.65 1053.2,313.65"/>
</g>
<g font-size="19" fill="#000">
<text transform="translate(1105.3 244.1) scale(1.0 1.09)">2GBR</text>
<text transform="translate(1105.3 281.0) scale(1.01 1.09)">2.5GBR</text>
<text transform="translate(1105.3 317.9) scale(1.0 1.09)">3GBR</text>
</g>
</svg>
</body></html>
